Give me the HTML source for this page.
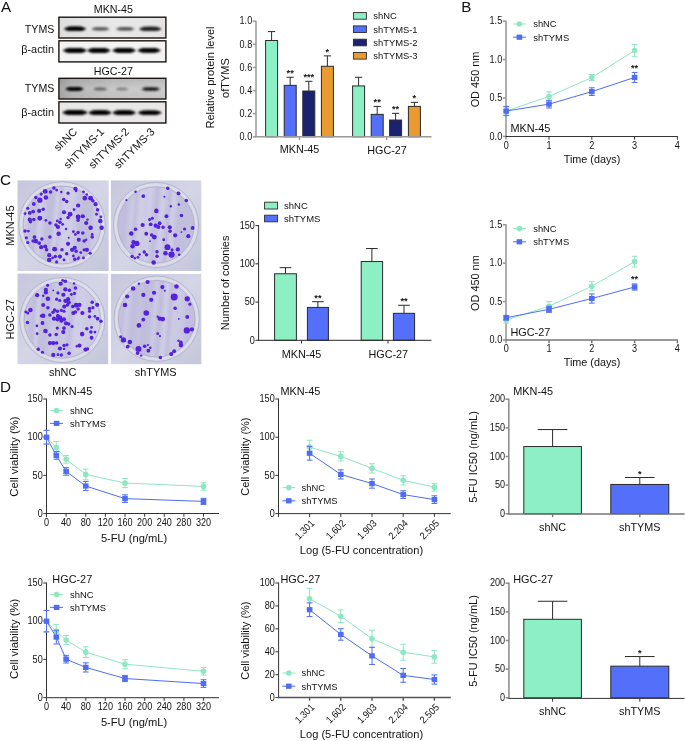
<!DOCTYPE html>
<html><head><meta charset="utf-8"><style>
html,body{margin:0;padding:0;background:#fff;}
svg{display:block;will-change:transform;}
text{font-family:"Liberation Sans", sans-serif;}
</style></head><body>
<svg width="685" height="741" viewBox="0 0 685 741">
<rect width="685" height="741" fill="#fff"/>
<text x="0.90" y="12.10" font-size="15.2" text-anchor="start" fill="#111">A</text>
<text x="461.20" y="12.20" font-size="15.2" text-anchor="start" fill="#111">B</text>
<text x="0.00" y="185.30" font-size="15.2" text-anchor="start" fill="#111">C</text>
<text x="0.00" y="392.40" font-size="15.2" text-anchor="start" fill="#111">D</text>
<defs><filter id="bl1" x="-20%" y="-80%" width="140%" height="260%"><feGaussianBlur stdDeviation="0.95"/></filter><filter id="bl2" x="-50%" y="-50%" width="200%" height="200%"><feGaussianBlur stdDeviation="0.45"/></filter><filter id="bl3" x="-10%" y="-10%" width="120%" height="120%"><feGaussianBlur stdDeviation="1.2"/></filter><linearGradient id="gA3" x1="0" y1="0" x2="1" y2="0"><stop offset="0" stop-color="#a6a6a6"/><stop offset="0.12" stop-color="#b8b8b8"/><stop offset="0.5" stop-color="#c8c8c8"/><stop offset="1" stop-color="#cdcdcd"/></linearGradient><linearGradient id="gA3v" x1="0" y1="0" x2="0" y2="1"><stop offset="0" stop-color="#000" stop-opacity="0.10"/><stop offset="0.5" stop-color="#000" stop-opacity="0"/><stop offset="1" stop-color="#000" stop-opacity="0.04"/></linearGradient><linearGradient id="gA1" x1="0" y1="0" x2="1" y2="0"><stop offset="0" stop-color="#dedede"/><stop offset="0.5" stop-color="#e8e8e8"/><stop offset="1" stop-color="#e4e4e4"/></linearGradient></defs>
<rect x="58.90" y="17.20" width="107.00" height="20.80" fill="url(#gA1)"/>
<g filter="url(#bl1)" fill="#050505" fill-opacity="1.0"><ellipse cx="75.00" cy="28.80" rx="11.00" ry="2.30"/><rect x="66.64" y="26.50" width="16.72" height="4.60" rx="2.30"/></g>
<g filter="url(#bl1)" fill="#555" fill-opacity="0.85"><ellipse cx="100.50" cy="28.90" rx="9.00" ry="1.70"/><rect x="93.66" y="27.20" width="13.68" height="3.40" rx="1.70"/></g>
<g filter="url(#bl1)" fill="#4a4a4a" fill-opacity="0.85"><ellipse cx="125.25" cy="28.90" rx="9.25" ry="1.70"/><rect x="118.22" y="27.20" width="14.06" height="3.40" rx="1.70"/></g>
<g filter="url(#bl1)" fill="#1c1c1c" fill-opacity="0.95"><ellipse cx="150.25" cy="28.90" rx="11.25" ry="2.10"/><rect x="141.70" y="26.80" width="17.10" height="4.20" rx="2.10"/></g>
<rect x="58.90" y="17.20" width="107.00" height="20.80" fill="none" stroke="#1c1511" stroke-width="1.4"/>
<rect x="58.90" y="40.80" width="107.00" height="21.10" fill="#f3f3f3"/>
<g filter="url(#bl1)" fill="#000" fill-opacity="1.0"><ellipse cx="74.90" cy="50.40" rx="11.90" ry="2.50"/><rect x="65.86" y="47.90" width="18.09" height="5.00" rx="2.50"/></g>
<g filter="url(#bl1)" fill="#000" fill-opacity="1.0"><ellipse cx="98.80" cy="50.50" rx="11.60" ry="2.50"/><rect x="89.98" y="48.00" width="17.63" height="5.00" rx="2.50"/></g>
<g filter="url(#bl1)" fill="#000" fill-opacity="1.0"><ellipse cx="124.10" cy="50.50" rx="11.70" ry="2.40"/><rect x="115.21" y="48.10" width="17.78" height="4.80" rx="2.40"/></g>
<g filter="url(#bl1)" fill="#000" fill-opacity="1.0"><ellipse cx="149.10" cy="50.40" rx="11.50" ry="2.30"/><rect x="140.36" y="48.10" width="17.48" height="4.60" rx="2.30"/></g>
<rect x="58.90" y="40.80" width="107.00" height="21.10" fill="none" stroke="#1c1511" stroke-width="1.4"/>
<rect x="58.90" y="78.30" width="107.00" height="20.70" fill="url(#gA3)"/>
<rect x="58.90" y="78.30" width="107.00" height="20.70" fill="url(#gA3v)"/>
<g filter="url(#bl1)" fill="#000" fill-opacity="1.0"><ellipse cx="74.50" cy="88.90" rx="9.00" ry="1.90"/><rect x="67.66" y="87.00" width="13.68" height="3.80" rx="1.90"/></g>
<g filter="url(#bl1)" fill="#555" fill-opacity="0.6"><ellipse cx="100.25" cy="89.00" rx="7.25" ry="1.50"/><rect x="94.74" y="87.50" width="11.02" height="3.00" rx="1.50"/></g>
<g filter="url(#bl1)" fill="#5a5a5a" fill-opacity="0.45"><ellipse cx="122.00" cy="89.00" rx="6.50" ry="1.30"/><rect x="117.06" y="87.70" width="9.88" height="2.60" rx="1.30"/></g>
<g filter="url(#bl1)" fill="#1a1a1a" fill-opacity="0.85"><ellipse cx="150.75" cy="89.00" rx="9.25" ry="1.80"/><rect x="143.72" y="87.20" width="14.06" height="3.60" rx="1.80"/></g>
<rect x="58.90" y="78.30" width="107.00" height="20.70" fill="none" stroke="#1c1511" stroke-width="1.4"/>
<rect x="58.90" y="101.80" width="107.00" height="21.20" fill="#e8e8e8"/>
<g filter="url(#bl1)" fill="#000" fill-opacity="1.0"><ellipse cx="75.00" cy="112.60" rx="12.50" ry="2.50"/><rect x="65.50" y="110.10" width="19.00" height="5.00" rx="2.50"/></g>
<g filter="url(#bl1)" fill="#000" fill-opacity="1.0"><ellipse cx="100.00" cy="112.70" rx="11.50" ry="2.40"/><rect x="91.26" y="110.30" width="17.48" height="4.80" rx="2.40"/></g>
<g filter="url(#bl1)" fill="#000" fill-opacity="1.0"><ellipse cx="124.15" cy="112.70" rx="11.65" ry="2.40"/><rect x="115.30" y="110.30" width="17.71" height="4.80" rx="2.40"/></g>
<g filter="url(#bl1)" fill="#000" fill-opacity="1.0"><ellipse cx="149.75" cy="112.70" rx="11.75" ry="2.30"/><rect x="140.82" y="110.40" width="17.86" height="4.60" rx="2.30"/></g>
<rect x="58.90" y="101.80" width="107.00" height="21.20" fill="none" stroke="#1c1511" stroke-width="1.4"/>
<text x="113.40" y="13.10" font-size="10.7" text-anchor="middle" fill="#111">MKN-45</text>
<text x="113.40" y="74.60" font-size="10.7" text-anchor="middle" fill="#111">HGC-27</text>
<text x="54.30" y="32.80" font-size="10.6" text-anchor="end" fill="#111">TYMS</text>
<text x="54.10" y="53.00" font-size="10.9" text-anchor="end" fill="#111">β-actin</text>
<text x="54.30" y="92.30" font-size="10.6" text-anchor="end" fill="#111">TYMS</text>
<text x="54.10" y="115.60" font-size="10.9" text-anchor="end" fill="#111">β-actin</text>
<text x="77.80" y="132.40" font-size="11.0" text-anchor="end" fill="#111" transform="rotate(-45 77.80 132.40)">shNC</text>
<text x="104.80" y="132.40" font-size="11.0" text-anchor="end" fill="#111" transform="rotate(-45 104.80 132.40)">shTYMS-1</text>
<text x="129.80" y="132.40" font-size="11.0" text-anchor="end" fill="#111" transform="rotate(-45 129.80 132.40)">shTYMS-2</text>
<text x="155.30" y="132.40" font-size="11.0" text-anchor="end" fill="#111" transform="rotate(-45 155.30 132.40)">shTYMS-3</text>
<line x1="271.60" y1="40.51" x2="271.60" y2="31.60" stroke="#2a2a2a" stroke-width="1.0"/>
<line x1="268.00" y1="31.60" x2="275.20" y2="31.60" stroke="#2a2a2a" stroke-width="1.0"/>
<rect x="265.60" y="40.51" width="12.00" height="96.29" fill="#8cf0c4" stroke="#2a2a2a" stroke-width="1.0"/>
<line x1="290.20" y1="85.36" x2="290.20" y2="77.27" stroke="#2a2a2a" stroke-width="1.0"/>
<line x1="286.60" y1="77.27" x2="293.80" y2="77.27" stroke="#2a2a2a" stroke-width="1.0"/>
<rect x="284.20" y="85.36" width="12.00" height="51.44" fill="#5470fa" stroke="#2a2a2a" stroke-width="1.0"/>
<text x="290.20" y="76.07" font-size="9.2" text-anchor="middle" fill="#111" font-weight="bold">**</text>
<line x1="308.80" y1="91.02" x2="308.80" y2="81.31" stroke="#2a2a2a" stroke-width="1.0"/>
<line x1="305.20" y1="81.31" x2="312.40" y2="81.31" stroke="#2a2a2a" stroke-width="1.0"/>
<rect x="302.80" y="91.02" width="12.00" height="45.78" fill="#1b2270" stroke="#2a2a2a" stroke-width="1.0"/>
<text x="308.80" y="80.11" font-size="9.2" text-anchor="middle" fill="#111" font-weight="bold">***</text>
<line x1="327.40" y1="66.28" x2="327.40" y2="55.88" stroke="#2a2a2a" stroke-width="1.0"/>
<line x1="323.80" y1="55.88" x2="331.00" y2="55.88" stroke="#2a2a2a" stroke-width="1.0"/>
<rect x="321.40" y="66.28" width="12.00" height="70.52" fill="#e99b32" stroke="#2a2a2a" stroke-width="1.0"/>
<text x="327.40" y="54.68" font-size="9.2" text-anchor="middle" fill="#111" font-weight="bold">*</text>
<line x1="358.60" y1="85.94" x2="358.60" y2="77.27" stroke="#2a2a2a" stroke-width="1.0"/>
<line x1="355.00" y1="77.27" x2="362.20" y2="77.27" stroke="#2a2a2a" stroke-width="1.0"/>
<rect x="352.60" y="85.94" width="12.00" height="50.86" fill="#8cf0c4" stroke="#2a2a2a" stroke-width="1.0"/>
<line x1="377.20" y1="114.37" x2="377.20" y2="106.40" stroke="#2a2a2a" stroke-width="1.0"/>
<line x1="373.60" y1="106.40" x2="380.80" y2="106.40" stroke="#2a2a2a" stroke-width="1.0"/>
<rect x="371.20" y="114.37" width="12.00" height="22.43" fill="#5470fa" stroke="#2a2a2a" stroke-width="1.0"/>
<text x="377.20" y="105.20" font-size="9.2" text-anchor="middle" fill="#111" font-weight="bold">**</text>
<line x1="395.60" y1="120.04" x2="395.60" y2="113.33" stroke="#2a2a2a" stroke-width="1.0"/>
<line x1="392.00" y1="113.33" x2="399.20" y2="113.33" stroke="#2a2a2a" stroke-width="1.0"/>
<rect x="389.60" y="120.04" width="12.00" height="16.76" fill="#1b2270" stroke="#2a2a2a" stroke-width="1.0"/>
<text x="395.60" y="112.13" font-size="9.2" text-anchor="middle" fill="#111" font-weight="bold">**</text>
<line x1="414.40" y1="106.40" x2="414.40" y2="102.35" stroke="#2a2a2a" stroke-width="1.0"/>
<line x1="410.80" y1="102.35" x2="418.00" y2="102.35" stroke="#2a2a2a" stroke-width="1.0"/>
<rect x="408.40" y="106.40" width="12.00" height="30.40" fill="#e99b32" stroke="#2a2a2a" stroke-width="1.0"/>
<text x="414.40" y="101.15" font-size="9.2" text-anchor="middle" fill="#111" font-weight="bold">*</text>
<line x1="256.00" y1="20.70" x2="256.00" y2="137.30" stroke="#9a9a9a" stroke-width="1.5"/>
<line x1="252.80" y1="136.80" x2="256.00" y2="136.80" stroke="#9a9a9a" stroke-width="1.5"/>
<text transform="translate(252.20 140.00) scale(0.91 1)" font-size="10.0" text-anchor="end" fill="#111">0.0</text>
<line x1="252.80" y1="113.68" x2="256.00" y2="113.68" stroke="#9a9a9a" stroke-width="1.5"/>
<text transform="translate(252.20 116.88) scale(0.91 1)" font-size="10.0" text-anchor="end" fill="#111">0.2</text>
<line x1="252.80" y1="90.56" x2="256.00" y2="90.56" stroke="#9a9a9a" stroke-width="1.5"/>
<text transform="translate(252.20 93.76) scale(0.91 1)" font-size="10.0" text-anchor="end" fill="#111">0.4</text>
<line x1="252.80" y1="67.44" x2="256.00" y2="67.44" stroke="#9a9a9a" stroke-width="1.5"/>
<text transform="translate(252.20 70.64) scale(0.91 1)" font-size="10.0" text-anchor="end" fill="#111">0.6</text>
<line x1="252.80" y1="44.32" x2="256.00" y2="44.32" stroke="#9a9a9a" stroke-width="1.5"/>
<text transform="translate(252.20 47.52) scale(0.91 1)" font-size="10.0" text-anchor="end" fill="#111">0.8</text>
<line x1="252.80" y1="21.20" x2="256.00" y2="21.20" stroke="#9a9a9a" stroke-width="1.5"/>
<text transform="translate(252.20 24.40) scale(0.91 1)" font-size="10.0" text-anchor="end" fill="#111">1.0</text>
<line x1="255.50" y1="136.80" x2="431.50" y2="136.80" stroke="#9a9a9a" stroke-width="1.5"/>
<line x1="299.50" y1="136.80" x2="299.50" y2="140.00" stroke="#9a9a9a" stroke-width="1.5"/>
<line x1="386.60" y1="136.80" x2="386.60" y2="140.00" stroke="#9a9a9a" stroke-width="1.5"/>
<text x="299.50" y="153.30" font-size="10.8" text-anchor="middle" fill="#111">MKN-45</text>
<text x="387.00" y="153.60" font-size="10.8" text-anchor="middle" fill="#111">HGC-27</text>
<text x="214.00" y="77.50" font-size="11" text-anchor="middle" fill="#111" transform="rotate(-90 214.00 77.50)">Relative protein level</text>
<text x="229.00" y="78.00" font-size="11" text-anchor="middle" fill="#111" transform="rotate(-90 229.00 78.00)">ofTYMS</text>
<rect x="353.40" y="12.60" width="13.00" height="6.60" fill="#8cf0c4" stroke="#2a2a2a" stroke-width="0.9"/>
<text x="373.30" y="19.20" font-size="9.4" text-anchor="start" fill="#111">shNC</text>
<rect x="353.40" y="25.90" width="13.00" height="6.60" fill="#5470fa" stroke="#2a2a2a" stroke-width="0.9"/>
<text x="373.30" y="32.50" font-size="9.4" text-anchor="start" fill="#111">shTYMS-1</text>
<rect x="353.40" y="39.20" width="13.00" height="6.60" fill="#1b2270" stroke="#2a2a2a" stroke-width="0.9"/>
<text x="373.30" y="45.80" font-size="9.4" text-anchor="start" fill="#111">shTYMS-2</text>
<rect x="353.40" y="52.50" width="13.00" height="6.60" fill="#e99b32" stroke="#2a2a2a" stroke-width="0.9"/>
<text x="373.30" y="59.10" font-size="9.4" text-anchor="start" fill="#111">shTYMS-3</text>
<line x1="506.00" y1="20.70" x2="506.00" y2="139.60" stroke="#9a9a9a" stroke-width="1.6"/>
<line x1="502.80" y1="136.40" x2="506.00" y2="136.40" stroke="#9a9a9a" stroke-width="1.6"/>
<text transform="translate(502.20 139.60) scale(0.91 1)" font-size="10.0" text-anchor="end" fill="#111">0.0</text>
<line x1="502.80" y1="98.00" x2="506.00" y2="98.00" stroke="#9a9a9a" stroke-width="1.6"/>
<text transform="translate(502.20 101.20) scale(0.91 1)" font-size="10.0" text-anchor="end" fill="#111">0.5</text>
<line x1="502.80" y1="59.60" x2="506.00" y2="59.60" stroke="#9a9a9a" stroke-width="1.6"/>
<text transform="translate(502.20 62.80) scale(0.91 1)" font-size="10.0" text-anchor="end" fill="#111">1.0</text>
<line x1="502.80" y1="21.20" x2="506.00" y2="21.20" stroke="#9a9a9a" stroke-width="1.6"/>
<text transform="translate(502.20 24.40) scale(0.91 1)" font-size="10.0" text-anchor="end" fill="#111">1.5</text>
<line x1="505.50" y1="136.50" x2="677.80" y2="136.50" stroke="#2a2a2a" stroke-width="0.95"/>
<line x1="549.00" y1="136.50" x2="549.00" y2="139.70" stroke="#2a2a2a" stroke-width="0.95"/>
<line x1="591.80" y1="136.50" x2="591.80" y2="139.70" stroke="#2a2a2a" stroke-width="0.95"/>
<line x1="634.60" y1="136.50" x2="634.60" y2="139.70" stroke="#2a2a2a" stroke-width="0.95"/>
<line x1="677.40" y1="136.50" x2="677.40" y2="139.70" stroke="#2a2a2a" stroke-width="0.95"/>
<path d="M506.20,111.06 L549.00,96.46 L591.80,77.57 L634.60,50.61" fill="none" stroke="#8ee6c2" stroke-width="1.0"/>
<line x1="506.20" y1="107.22" x2="506.20" y2="114.90" stroke="#8ee6c2" stroke-width="1.0"/>
<line x1="503.30" y1="107.22" x2="509.10" y2="107.22" stroke="#8ee6c2" stroke-width="1.0"/>
<line x1="503.30" y1="114.90" x2="509.10" y2="114.90" stroke="#8ee6c2" stroke-width="1.0"/>
<line x1="549.00" y1="91.86" x2="549.00" y2="101.07" stroke="#8ee6c2" stroke-width="1.0"/>
<line x1="546.10" y1="91.86" x2="551.90" y2="91.86" stroke="#8ee6c2" stroke-width="1.0"/>
<line x1="546.10" y1="101.07" x2="551.90" y2="101.07" stroke="#8ee6c2" stroke-width="1.0"/>
<line x1="591.80" y1="74.50" x2="591.80" y2="80.64" stroke="#8ee6c2" stroke-width="1.0"/>
<line x1="588.90" y1="74.50" x2="594.70" y2="74.50" stroke="#8ee6c2" stroke-width="1.0"/>
<line x1="588.90" y1="80.64" x2="594.70" y2="80.64" stroke="#8ee6c2" stroke-width="1.0"/>
<line x1="634.60" y1="44.47" x2="634.60" y2="56.76" stroke="#8ee6c2" stroke-width="1.0"/>
<line x1="631.70" y1="44.47" x2="637.50" y2="44.47" stroke="#8ee6c2" stroke-width="1.0"/>
<line x1="631.70" y1="56.76" x2="637.50" y2="56.76" stroke="#8ee6c2" stroke-width="1.0"/>
<circle cx="506.20" cy="111.06" r="2.8" fill="#8ee6c2"/>
<circle cx="549.00" cy="96.46" r="2.8" fill="#8ee6c2"/>
<circle cx="591.80" cy="77.57" r="2.8" fill="#8ee6c2"/>
<circle cx="634.60" cy="50.61" r="2.8" fill="#8ee6c2"/>
<path d="M506.20,111.06 L549.00,104.14 L591.80,91.63 L634.60,77.42" fill="none" stroke="#4f6cf2" stroke-width="1.0"/>
<line x1="506.20" y1="106.45" x2="506.20" y2="115.66" stroke="#4f6cf2" stroke-width="1.0"/>
<line x1="503.30" y1="106.45" x2="509.10" y2="106.45" stroke="#4f6cf2" stroke-width="1.0"/>
<line x1="503.30" y1="115.66" x2="509.10" y2="115.66" stroke="#4f6cf2" stroke-width="1.0"/>
<line x1="549.00" y1="100.30" x2="549.00" y2="107.98" stroke="#4f6cf2" stroke-width="1.0"/>
<line x1="546.10" y1="100.30" x2="551.90" y2="100.30" stroke="#4f6cf2" stroke-width="1.0"/>
<line x1="546.10" y1="107.98" x2="551.90" y2="107.98" stroke="#4f6cf2" stroke-width="1.0"/>
<line x1="591.80" y1="87.79" x2="591.80" y2="95.47" stroke="#4f6cf2" stroke-width="1.0"/>
<line x1="588.90" y1="87.79" x2="594.70" y2="87.79" stroke="#4f6cf2" stroke-width="1.0"/>
<line x1="588.90" y1="95.47" x2="594.70" y2="95.47" stroke="#4f6cf2" stroke-width="1.0"/>
<line x1="634.60" y1="72.43" x2="634.60" y2="82.41" stroke="#4f6cf2" stroke-width="1.0"/>
<line x1="631.70" y1="72.43" x2="637.50" y2="72.43" stroke="#4f6cf2" stroke-width="1.0"/>
<line x1="631.70" y1="82.41" x2="637.50" y2="82.41" stroke="#4f6cf2" stroke-width="1.0"/>
<rect x="503.40" y="108.46" width="5.60" height="5.20" fill="#4f6cf2"/>
<rect x="546.20" y="101.54" width="5.60" height="5.20" fill="#4f6cf2"/>
<rect x="589.00" y="89.03" width="5.60" height="5.20" fill="#4f6cf2"/>
<rect x="631.80" y="74.82" width="5.60" height="5.20" fill="#4f6cf2"/>
<text transform="translate(506.20 148.80) scale(0.91 1)" font-size="10.0" text-anchor="middle" fill="#111">0</text>
<text transform="translate(549.00 148.80) scale(0.91 1)" font-size="10.0" text-anchor="middle" fill="#111">1</text>
<text transform="translate(591.80 148.80) scale(0.91 1)" font-size="10.0" text-anchor="middle" fill="#111">2</text>
<text transform="translate(634.60 148.80) scale(0.91 1)" font-size="10.0" text-anchor="middle" fill="#111">3</text>
<text transform="translate(677.40 148.80) scale(0.91 1)" font-size="10.0" text-anchor="middle" fill="#111">4</text>
<text x="592.00" y="162.70" font-size="10.8" text-anchor="middle" fill="#111">Time (days)</text>
<text x="478.60" y="79.50" font-size="10.9" text-anchor="middle" fill="#111" transform="rotate(-90 478.60 79.50)">OD 450 nm</text>
<text x="510.40" y="132.40" font-size="10.9" text-anchor="start" fill="#111">MKN-45</text>
<text x="634.60" y="70.83" font-size="9.2" text-anchor="middle" fill="#111" font-weight="bold">**</text>
<line x1="512.90" y1="24.00" x2="525.90" y2="24.00" stroke="#8ee6c2" stroke-width="1.0"/>
<circle cx="519.40" cy="24.00" r="2.8" fill="#8ee6c2"/>
<text x="533.20" y="27.40" font-size="9.4" text-anchor="start" fill="#111">shNC</text>
<line x1="512.90" y1="37.20" x2="525.90" y2="37.20" stroke="#4f6cf2" stroke-width="1.0"/>
<rect x="516.60" y="34.60" width="5.60" height="5.20" fill="#4f6cf2"/>
<text x="533.20" y="40.60" font-size="9.4" text-anchor="start" fill="#111">shTYMS</text>
<line x1="506.00" y1="224.30" x2="506.00" y2="343.20" stroke="#9a9a9a" stroke-width="1.6"/>
<line x1="502.80" y1="340.00" x2="506.00" y2="340.00" stroke="#9a9a9a" stroke-width="1.6"/>
<text transform="translate(502.20 343.20) scale(0.91 1)" font-size="10.0" text-anchor="end" fill="#111">0.0</text>
<line x1="502.80" y1="301.60" x2="506.00" y2="301.60" stroke="#9a9a9a" stroke-width="1.6"/>
<text transform="translate(502.20 304.80) scale(0.91 1)" font-size="10.0" text-anchor="end" fill="#111">0.5</text>
<line x1="502.80" y1="263.20" x2="506.00" y2="263.20" stroke="#9a9a9a" stroke-width="1.6"/>
<text transform="translate(502.20 266.40) scale(0.91 1)" font-size="10.0" text-anchor="end" fill="#111">1.0</text>
<line x1="502.80" y1="224.80" x2="506.00" y2="224.80" stroke="#9a9a9a" stroke-width="1.6"/>
<text transform="translate(502.20 228.00) scale(0.91 1)" font-size="10.0" text-anchor="end" fill="#111">1.5</text>
<line x1="505.50" y1="340.10" x2="677.80" y2="340.10" stroke="#777" stroke-width="1.5"/>
<line x1="549.00" y1="340.10" x2="549.00" y2="343.30" stroke="#777" stroke-width="1.5"/>
<line x1="591.80" y1="340.10" x2="591.80" y2="343.30" stroke="#777" stroke-width="1.5"/>
<line x1="634.60" y1="340.10" x2="634.60" y2="343.30" stroke="#777" stroke-width="1.5"/>
<line x1="677.40" y1="340.10" x2="677.40" y2="343.30" stroke="#777" stroke-width="1.5"/>
<path d="M506.20,320.03 L549.00,306.21 L591.80,286.24 L634.60,261.66" fill="none" stroke="#8ee6c2" stroke-width="1.0"/>
<line x1="506.20" y1="316.96" x2="506.20" y2="323.10" stroke="#8ee6c2" stroke-width="1.0"/>
<line x1="503.30" y1="316.96" x2="509.10" y2="316.96" stroke="#8ee6c2" stroke-width="1.0"/>
<line x1="503.30" y1="323.10" x2="509.10" y2="323.10" stroke="#8ee6c2" stroke-width="1.0"/>
<line x1="549.00" y1="301.60" x2="549.00" y2="310.82" stroke="#8ee6c2" stroke-width="1.0"/>
<line x1="546.10" y1="301.60" x2="551.90" y2="301.60" stroke="#8ee6c2" stroke-width="1.0"/>
<line x1="546.10" y1="310.82" x2="551.90" y2="310.82" stroke="#8ee6c2" stroke-width="1.0"/>
<line x1="591.80" y1="281.63" x2="591.80" y2="290.85" stroke="#8ee6c2" stroke-width="1.0"/>
<line x1="588.90" y1="281.63" x2="594.70" y2="281.63" stroke="#8ee6c2" stroke-width="1.0"/>
<line x1="588.90" y1="290.85" x2="594.70" y2="290.85" stroke="#8ee6c2" stroke-width="1.0"/>
<line x1="634.60" y1="256.29" x2="634.60" y2="267.04" stroke="#8ee6c2" stroke-width="1.0"/>
<line x1="631.70" y1="256.29" x2="637.50" y2="256.29" stroke="#8ee6c2" stroke-width="1.0"/>
<line x1="631.70" y1="267.04" x2="637.50" y2="267.04" stroke="#8ee6c2" stroke-width="1.0"/>
<circle cx="506.20" cy="320.03" r="2.8" fill="#8ee6c2"/>
<circle cx="549.00" cy="306.21" r="2.8" fill="#8ee6c2"/>
<circle cx="591.80" cy="286.24" r="2.8" fill="#8ee6c2"/>
<circle cx="634.60" cy="261.66" r="2.8" fill="#8ee6c2"/>
<path d="M506.20,317.73 L549.00,309.28 L591.80,298.53 L634.60,287.01" fill="none" stroke="#4f6cf2" stroke-width="1.0"/>
<line x1="506.20" y1="315.42" x2="506.20" y2="320.03" stroke="#4f6cf2" stroke-width="1.0"/>
<line x1="503.30" y1="315.42" x2="509.10" y2="315.42" stroke="#4f6cf2" stroke-width="1.0"/>
<line x1="503.30" y1="320.03" x2="509.10" y2="320.03" stroke="#4f6cf2" stroke-width="1.0"/>
<line x1="549.00" y1="306.21" x2="549.00" y2="312.35" stroke="#4f6cf2" stroke-width="1.0"/>
<line x1="546.10" y1="306.21" x2="551.90" y2="306.21" stroke="#4f6cf2" stroke-width="1.0"/>
<line x1="546.10" y1="312.35" x2="551.90" y2="312.35" stroke="#4f6cf2" stroke-width="1.0"/>
<line x1="591.80" y1="293.92" x2="591.80" y2="303.14" stroke="#4f6cf2" stroke-width="1.0"/>
<line x1="588.90" y1="293.92" x2="594.70" y2="293.92" stroke="#4f6cf2" stroke-width="1.0"/>
<line x1="588.90" y1="303.14" x2="594.70" y2="303.14" stroke="#4f6cf2" stroke-width="1.0"/>
<line x1="634.60" y1="283.94" x2="634.60" y2="290.08" stroke="#4f6cf2" stroke-width="1.0"/>
<line x1="631.70" y1="283.94" x2="637.50" y2="283.94" stroke="#4f6cf2" stroke-width="1.0"/>
<line x1="631.70" y1="290.08" x2="637.50" y2="290.08" stroke="#4f6cf2" stroke-width="1.0"/>
<rect x="503.40" y="315.13" width="5.60" height="5.20" fill="#4f6cf2"/>
<rect x="546.20" y="306.68" width="5.60" height="5.20" fill="#4f6cf2"/>
<rect x="589.00" y="295.93" width="5.60" height="5.20" fill="#4f6cf2"/>
<rect x="631.80" y="284.41" width="5.60" height="5.20" fill="#4f6cf2"/>
<text transform="translate(506.20 352.40) scale(0.91 1)" font-size="10.0" text-anchor="middle" fill="#111">0</text>
<text transform="translate(549.00 352.40) scale(0.91 1)" font-size="10.0" text-anchor="middle" fill="#111">1</text>
<text transform="translate(591.80 352.40) scale(0.91 1)" font-size="10.0" text-anchor="middle" fill="#111">2</text>
<text transform="translate(634.60 352.40) scale(0.91 1)" font-size="10.0" text-anchor="middle" fill="#111">3</text>
<text transform="translate(677.40 352.40) scale(0.91 1)" font-size="10.0" text-anchor="middle" fill="#111">4</text>
<text x="592.00" y="366.30" font-size="10.8" text-anchor="middle" fill="#111">Time (days)</text>
<text x="478.60" y="283.10" font-size="10.9" text-anchor="middle" fill="#111" transform="rotate(-90 478.60 283.10)">OD 450 nm</text>
<text x="510.40" y="336.20" font-size="10.9" text-anchor="start" fill="#111">HGC-27</text>
<text x="634.60" y="282.34" font-size="9.2" text-anchor="middle" fill="#111" font-weight="bold">**</text>
<line x1="512.90" y1="228.60" x2="525.90" y2="228.60" stroke="#8ee6c2" stroke-width="1.0"/>
<circle cx="519.40" cy="228.60" r="2.8" fill="#8ee6c2"/>
<text x="533.20" y="232.00" font-size="9.4" text-anchor="start" fill="#111">shNC</text>
<line x1="512.90" y1="241.80" x2="525.90" y2="241.80" stroke="#4f6cf2" stroke-width="1.0"/>
<rect x="516.60" y="239.20" width="5.60" height="5.20" fill="#4f6cf2"/>
<text x="533.20" y="245.20" font-size="9.4" text-anchor="start" fill="#111">shTYMS</text>
<line x1="285.50" y1="273.77" x2="285.50" y2="267.66" stroke="#2a2a2a" stroke-width="1.0"/>
<line x1="279.70" y1="267.66" x2="291.30" y2="267.66" stroke="#2a2a2a" stroke-width="1.0"/>
<rect x="274.60" y="273.77" width="21.80" height="66.53" fill="#8cf0c4" stroke="#2a2a2a" stroke-width="1.0"/>
<line x1="317.90" y1="307.42" x2="317.90" y2="301.68" stroke="#2a2a2a" stroke-width="1.0"/>
<line x1="312.10" y1="301.68" x2="323.70" y2="301.68" stroke="#2a2a2a" stroke-width="1.0"/>
<rect x="307.40" y="307.42" width="21.00" height="32.88" fill="#5470fa" stroke="#2a2a2a" stroke-width="1.0"/>
<text x="317.90" y="300.68" font-size="9.2" text-anchor="middle" fill="#111" font-weight="bold">**</text>
<line x1="371.90" y1="261.54" x2="371.90" y2="248.54" stroke="#2a2a2a" stroke-width="1.0"/>
<line x1="366.10" y1="248.54" x2="377.70" y2="248.54" stroke="#2a2a2a" stroke-width="1.0"/>
<rect x="361.20" y="261.54" width="21.40" height="78.76" fill="#8cf0c4" stroke="#2a2a2a" stroke-width="1.0"/>
<line x1="404.00" y1="313.31" x2="404.00" y2="305.28" stroke="#2a2a2a" stroke-width="1.0"/>
<line x1="398.20" y1="305.28" x2="409.80" y2="305.28" stroke="#2a2a2a" stroke-width="1.0"/>
<rect x="393.40" y="313.31" width="21.20" height="26.99" fill="#5470fa" stroke="#2a2a2a" stroke-width="1.0"/>
<text x="404.00" y="304.28" font-size="9.2" text-anchor="middle" fill="#111" font-weight="bold">**</text>
<line x1="258.60" y1="225.10" x2="258.60" y2="340.80" stroke="#2a2a2a" stroke-width="1.0"/>
<line x1="255.40" y1="340.30" x2="258.60" y2="340.30" stroke="#2a2a2a" stroke-width="1.0"/>
<text transform="translate(254.80 343.50) scale(0.91 1)" font-size="10.0" text-anchor="end" fill="#111">0</text>
<line x1="255.40" y1="302.07" x2="258.60" y2="302.07" stroke="#2a2a2a" stroke-width="1.0"/>
<text transform="translate(254.80 305.27) scale(0.91 1)" font-size="10.0" text-anchor="end" fill="#111">50</text>
<line x1="255.40" y1="263.83" x2="258.60" y2="263.83" stroke="#2a2a2a" stroke-width="1.0"/>
<text transform="translate(254.80 267.03) scale(0.91 1)" font-size="10.0" text-anchor="end" fill="#111">100</text>
<line x1="255.40" y1="225.60" x2="258.60" y2="225.60" stroke="#2a2a2a" stroke-width="1.0"/>
<text transform="translate(254.80 228.80) scale(0.91 1)" font-size="10.0" text-anchor="end" fill="#111">150</text>
<line x1="258.10" y1="340.30" x2="431.50" y2="340.30" stroke="#2a2a2a" stroke-width="1.0"/>
<line x1="301.60" y1="340.30" x2="301.60" y2="343.50" stroke="#2a2a2a" stroke-width="1.0"/>
<line x1="388.00" y1="340.30" x2="388.00" y2="343.50" stroke="#2a2a2a" stroke-width="1.0"/>
<text x="301.60" y="358.20" font-size="10.8" text-anchor="middle" fill="#111">MKN-45</text>
<text x="388.30" y="358.20" font-size="10.8" text-anchor="middle" fill="#111">HGC-27</text>
<text x="228.90" y="282.90" font-size="11" text-anchor="middle" fill="#111" transform="rotate(-90 228.90 282.90)">Number of colonies</text>
<rect x="264.60" y="202.20" width="13.00" height="6.80" fill="#8cf0c4" stroke="#2a2a2a" stroke-width="0.9"/>
<rect x="264.60" y="215.20" width="13.00" height="6.60" fill="#5470fa" stroke="#2a2a2a" stroke-width="0.9"/>
<text x="284.00" y="209.20" font-size="9.5" text-anchor="start" fill="#111">shNC</text>
<text x="284.00" y="222.00" font-size="9.5" text-anchor="start" fill="#111">shTYMS</text>
<linearGradient id="pg17180" x1="0" y1="0" x2="1" y2="1"><stop offset="0" stop-color="#c6c7dc"/><stop offset="0.5" stop-color="#d4d5e6"/><stop offset="1" stop-color="#c4c6db"/></linearGradient>
<rect x="17.50" y="180.40" width="91.10" height="90.60" fill="url(#pg17180)"/>
<circle cx="62.00" cy="225.00" r="43.30" fill="#d6d7e6" stroke="#aeb0c8" stroke-width="0.8"/>
<circle cx="62.00" cy="225.00" r="41.10" fill="none" stroke="#dedfea" stroke-width="1.5"/>
<linearGradient id="st17180" x1="0" y1="0" x2="1" y2="0.08"><stop offset="0.000" stop-color="#d0cee7"/><stop offset="0.062" stop-color="#d0cee7"/><stop offset="0.117" stop-color="#c5c2df"/><stop offset="0.196" stop-color="#c2bfdd"/><stop offset="0.249" stop-color="#d0cee7"/><stop offset="0.339" stop-color="#c2bfdd"/><stop offset="0.389" stop-color="#bfbddb"/><stop offset="0.459" stop-color="#d0cee7"/><stop offset="0.490" stop-color="#c5c2df"/><stop offset="0.555" stop-color="#d0cee7"/><stop offset="0.644" stop-color="#d0cee7"/><stop offset="0.679" stop-color="#cbc9e3"/><stop offset="0.766" stop-color="#c2bfdd"/><stop offset="0.847" stop-color="#c2bfdd"/><stop offset="0.894" stop-color="#c2bfdd"/><stop offset="0.947" stop-color="#cbc9e3"/></linearGradient>
<circle cx="62.00" cy="225.00" r="38.90" fill="url(#st17180)" stroke="#b0aeca" stroke-width="0.9"/>
<g fill="#5220dc" filter="url(#bl2)">
<circle cx="45.20" cy="191.42" r="2.44"/>
<circle cx="50.58" cy="192.09" r="1.75"/>
<circle cx="53.93" cy="188.06" r="1.75"/>
<circle cx="56.62" cy="190.07" r="1.40"/>
<circle cx="61.32" cy="192.09" r="1.22"/>
<circle cx="68.04" cy="193.16" r="1.57"/>
<circle cx="75.42" cy="188.73" r="2.10"/>
<circle cx="76.09" cy="190.74" r="1.40"/>
<circle cx="83.48" cy="191.82" r="1.40"/>
<circle cx="86.84" cy="194.51" r="1.22"/>
<circle cx="84.82" cy="198.13" r="2.27"/>
<circle cx="90.60" cy="198.13" r="2.44"/>
<circle cx="92.88" cy="200.82" r="1.75"/>
<circle cx="95.57" cy="204.18" r="2.10"/>
<circle cx="97.58" cy="209.82" r="1.75"/>
<circle cx="96.51" cy="214.25" r="1.40"/>
<circle cx="100.94" cy="216.93" r="1.40"/>
<circle cx="100.27" cy="220.96" r="2.27"/>
<circle cx="101.61" cy="227.68" r="2.27"/>
<circle cx="90.60" cy="227.68" r="2.27"/>
<circle cx="92.21" cy="234.39" r="1.40"/>
<circle cx="92.21" cy="237.08" r="1.75"/>
<circle cx="41.18" cy="194.10" r="1.57"/>
<circle cx="45.88" cy="197.46" r="2.27"/>
<circle cx="35.80" cy="197.46" r="1.75"/>
<circle cx="39.83" cy="200.15" r="2.62"/>
<circle cx="33.79" cy="203.91" r="1.92"/>
<circle cx="27.74" cy="208.20" r="1.57"/>
<circle cx="33.12" cy="211.56" r="1.92"/>
<circle cx="29.76" cy="212.91" r="1.92"/>
<circle cx="25.06" cy="213.58" r="1.40"/>
<circle cx="39.16" cy="210.89" r="2.10"/>
<circle cx="43.19" cy="209.28" r="1.75"/>
<circle cx="63.74" cy="199.47" r="1.75"/>
<circle cx="66.69" cy="201.49" r="1.75"/>
<circle cx="78.11" cy="205.52" r="2.10"/>
<circle cx="74.08" cy="209.55" r="1.40"/>
<circle cx="64.01" cy="212.23" r="2.10"/>
<circle cx="70.05" cy="214.25" r="2.44"/>
<circle cx="68.04" cy="217.61" r="1.75"/>
<circle cx="78.11" cy="216.93" r="2.44"/>
<circle cx="82.81" cy="216.26" r="2.10"/>
<circle cx="78.11" cy="220.29" r="1.75"/>
<circle cx="87.51" cy="219.62" r="1.22"/>
<circle cx="86.17" cy="222.98" r="2.10"/>
<circle cx="39.83" cy="218.28" r="2.44"/>
<circle cx="45.88" cy="220.29" r="1.40"/>
<circle cx="49.91" cy="222.98" r="1.75"/>
<circle cx="57.29" cy="220.96" r="1.40"/>
<circle cx="60.65" cy="218.95" r="1.22"/>
<circle cx="59.98" cy="222.31" r="1.75"/>
<circle cx="55.95" cy="224.99" r="1.75"/>
<circle cx="57.96" cy="227.01" r="2.10"/>
<circle cx="62.66" cy="224.32" r="1.40"/>
<circle cx="66.02" cy="229.02" r="1.22"/>
<circle cx="58.64" cy="233.72" r="2.27"/>
<circle cx="49.91" cy="237.08" r="1.75"/>
<circle cx="73.41" cy="231.71" r="1.40"/>
<circle cx="75.42" cy="234.39" r="1.40"/>
<circle cx="78.11" cy="232.38" r="1.75"/>
<circle cx="82.81" cy="233.05" r="1.75"/>
<circle cx="78.78" cy="239.77" r="2.10"/>
<circle cx="84.15" cy="241.11" r="1.75"/>
<circle cx="86.17" cy="239.77" r="1.22"/>
<circle cx="29.76" cy="219.62" r="2.10"/>
<circle cx="33.79" cy="219.62" r="1.75"/>
<circle cx="30.43" cy="221.64" r="1.75"/>
<circle cx="25.06" cy="231.04" r="1.75"/>
<circle cx="28.42" cy="231.04" r="1.40"/>
<circle cx="26.40" cy="237.75" r="1.57"/>
<circle cx="34.46" cy="237.08" r="1.92"/>
<circle cx="35.80" cy="241.11" r="2.27"/>
<circle cx="33.12" cy="241.11" r="1.75"/>
<circle cx="39.16" cy="243.12" r="1.92"/>
<circle cx="41.85" cy="239.09" r="1.75"/>
<circle cx="27.74" cy="242.45" r="1.57"/>
<circle cx="41.18" cy="247.15" r="2.10"/>
<circle cx="45.20" cy="246.48" r="2.10"/>
<circle cx="46.55" cy="249.84" r="1.75"/>
<circle cx="49.23" cy="255.21" r="2.10"/>
<circle cx="49.23" cy="259.91" r="2.27"/>
<circle cx="52.59" cy="257.90" r="1.40"/>
<circle cx="54.61" cy="249.17" r="2.44"/>
<circle cx="55.28" cy="256.55" r="1.75"/>
<circle cx="56.62" cy="261.93" r="1.57"/>
<circle cx="59.98" cy="256.55" r="2.10"/>
<circle cx="61.99" cy="249.84" r="1.75"/>
<circle cx="66.69" cy="253.87" r="1.75"/>
<circle cx="68.04" cy="243.80" r="2.10"/>
<circle cx="72.07" cy="249.84" r="2.10"/>
<circle cx="74.75" cy="247.82" r="2.10"/>
<circle cx="76.09" cy="251.18" r="1.75"/>
<circle cx="73.41" cy="255.88" r="1.40"/>
<circle cx="74.75" cy="259.24" r="1.75"/>
<circle cx="78.11" cy="258.57" r="1.40"/>
<circle cx="80.80" cy="252.53" r="1.40"/>
<circle cx="84.15" cy="249.84" r="1.57"/>
<circle cx="86.84" cy="249.84" r="2.10"/>
<circle cx="83.48" cy="257.90" r="1.40"/>
<circle cx="90.20" cy="253.20" r="1.57"/>
<circle cx="68.71" cy="237.75" r="1.05"/>
<circle cx="78.78" cy="257.23" r="1.05"/>
<circle cx="64.01" cy="259.91" r="1.40"/>
</g>
<linearGradient id="pg110180" x1="0" y1="0" x2="1" y2="1"><stop offset="0" stop-color="#c6c7dc"/><stop offset="0.5" stop-color="#d4d5e6"/><stop offset="1" stop-color="#c4c6db"/></linearGradient>
<rect x="110.90" y="180.40" width="90.40" height="90.60" fill="url(#pg110180)"/>
<circle cx="156.00" cy="225.00" r="42.60" fill="#d6d7e6" stroke="#aeb0c8" stroke-width="0.8"/>
<circle cx="156.00" cy="225.00" r="40.40" fill="none" stroke="#dedfea" stroke-width="1.5"/>
<linearGradient id="st110180" x1="0" y1="0" x2="1" y2="0.08"><stop offset="0.000" stop-color="#c2bfdd"/><stop offset="0.039" stop-color="#c2bfdd"/><stop offset="0.122" stop-color="#bfbddb"/><stop offset="0.210" stop-color="#cbc9e3"/><stop offset="0.256" stop-color="#c2bfdd"/><stop offset="0.322" stop-color="#d0cee7"/><stop offset="0.394" stop-color="#cbc9e3"/><stop offset="0.431" stop-color="#d0cee7"/><stop offset="0.520" stop-color="#bfbddb"/><stop offset="0.602" stop-color="#d0cee7"/><stop offset="0.687" stop-color="#bfbddb"/><stop offset="0.734" stop-color="#d0cee7"/><stop offset="0.769" stop-color="#cbc9e3"/><stop offset="0.804" stop-color="#c2bfdd"/><stop offset="0.878" stop-color="#c2bfdd"/><stop offset="0.960" stop-color="#c2bfdd"/></linearGradient>
<circle cx="156.00" cy="225.00" r="38.20" fill="url(#st110180)" stroke="#b0aeca" stroke-width="0.9"/>
<g fill="#5220dc" filter="url(#bl2)">
<circle cx="167.75" cy="188.33" r="1.75"/>
<circle cx="178.50" cy="193.43" r="1.92"/>
<circle cx="186.29" cy="200.41" r="1.75"/>
<circle cx="135.52" cy="191.82" r="1.22"/>
<circle cx="143.31" cy="196.12" r="1.92"/>
<circle cx="164.39" cy="196.79" r="1.05"/>
<circle cx="126.39" cy="200.15" r="1.05"/>
<circle cx="178.90" cy="204.44" r="1.22"/>
<circle cx="170.84" cy="206.19" r="1.22"/>
<circle cx="156.34" cy="210.89" r="2.27"/>
<circle cx="166.41" cy="216.26" r="1.92"/>
<circle cx="181.45" cy="215.59" r="1.75"/>
<circle cx="149.62" cy="219.62" r="1.57"/>
<circle cx="152.31" cy="218.28" r="1.57"/>
<circle cx="142.64" cy="224.99" r="2.10"/>
<circle cx="150.69" cy="224.32" r="1.92"/>
<circle cx="155.66" cy="225.66" r="2.10"/>
<circle cx="159.69" cy="223.25" r="1.92"/>
<circle cx="158.35" cy="227.01" r="2.10"/>
<circle cx="163.05" cy="227.28" r="1.75"/>
<circle cx="169.77" cy="227.28" r="2.10"/>
<circle cx="170.04" cy="231.31" r="1.75"/>
<circle cx="135.52" cy="229.16" r="1.75"/>
<circle cx="184.54" cy="229.02" r="1.57"/>
<circle cx="192.60" cy="227.95" r="1.92"/>
<circle cx="181.45" cy="232.11" r="0.87"/>
<circle cx="131.22" cy="233.45" r="2.27"/>
<circle cx="146.26" cy="233.72" r="1.92"/>
<circle cx="151.64" cy="235.07" r="1.75"/>
<circle cx="154.32" cy="237.08" r="2.44"/>
<circle cx="175.14" cy="235.33" r="2.10"/>
<circle cx="188.30" cy="236.14" r="2.10"/>
<circle cx="163.72" cy="239.77" r="1.40"/>
<circle cx="150.02" cy="241.24" r="0.87"/>
<circle cx="133.50" cy="242.18" r="2.10"/>
<circle cx="136.86" cy="243.39" r="2.62"/>
<circle cx="132.56" cy="246.21" r="2.27"/>
<circle cx="167.48" cy="247.15" r="2.97"/>
<circle cx="172.05" cy="249.84" r="1.57"/>
<circle cx="177.82" cy="249.44" r="2.10"/>
<circle cx="165.47" cy="253.20" r="2.27"/>
<circle cx="171.51" cy="254.54" r="3.14"/>
<circle cx="157.01" cy="251.85" r="1.75"/>
<circle cx="144.25" cy="252.12" r="1.75"/>
<circle cx="146.53" cy="254.67" r="1.75"/>
<circle cx="179.17" cy="254.67" r="1.22"/>
<circle cx="139.55" cy="254.54" r="1.22"/>
<circle cx="132.16" cy="256.55" r="1.75"/>
<circle cx="134.85" cy="258.17" r="1.22"/>
<circle cx="137.94" cy="257.36" r="1.40"/>
<circle cx="157.01" cy="256.15" r="1.75"/>
<circle cx="153.65" cy="262.60" r="2.27"/>
</g>
<linearGradient id="pg17273" x1="0" y1="0" x2="1" y2="1"><stop offset="0" stop-color="#c6c7dc"/><stop offset="0.5" stop-color="#d4d5e6"/><stop offset="1" stop-color="#c4c6db"/></linearGradient>
<rect x="17.50" y="273.60" width="90.70" height="90.60" fill="url(#pg17273)"/>
<circle cx="62.30" cy="320.00" r="42.60" fill="#d6d7e6" stroke="#aeb0c8" stroke-width="0.8"/>
<circle cx="62.30" cy="320.00" r="40.40" fill="none" stroke="#dedfea" stroke-width="1.5"/>
<linearGradient id="st17273" x1="0" y1="0" x2="1" y2="0.08"><stop offset="0.000" stop-color="#bfbddb"/><stop offset="0.047" stop-color="#cbc9e3"/><stop offset="0.110" stop-color="#c5c2df"/><stop offset="0.161" stop-color="#bfbddb"/><stop offset="0.213" stop-color="#d0cee7"/><stop offset="0.260" stop-color="#c2bfdd"/><stop offset="0.345" stop-color="#c2bfdd"/><stop offset="0.424" stop-color="#cbc9e3"/><stop offset="0.506" stop-color="#c5c2df"/><stop offset="0.566" stop-color="#cbc9e3"/><stop offset="0.646" stop-color="#bfbddb"/><stop offset="0.712" stop-color="#d0cee7"/><stop offset="0.786" stop-color="#d0cee7"/><stop offset="0.861" stop-color="#cbc9e3"/><stop offset="0.899" stop-color="#cbc9e3"/><stop offset="0.980" stop-color="#d0cee7"/></linearGradient>
<circle cx="62.30" cy="320.00" r="38.20" fill="url(#st17273)" stroke="#b0aeca" stroke-width="0.9"/>
<g fill="#5220dc" filter="url(#bl2)">
<circle cx="60.65" cy="283.74" r="2.10"/>
<circle cx="65.35" cy="281.33" r="1.75"/>
<circle cx="62.66" cy="280.39" r="1.40"/>
<circle cx="47.62" cy="285.36" r="1.57"/>
<circle cx="74.08" cy="283.48" r="1.22"/>
<circle cx="45.88" cy="289.79" r="2.10"/>
<circle cx="45.88" cy="292.47" r="2.10"/>
<circle cx="53.26" cy="290.46" r="0.87"/>
<circle cx="65.35" cy="289.39" r="2.10"/>
<circle cx="69.38" cy="290.19" r="1.75"/>
<circle cx="75.42" cy="288.04" r="1.75"/>
<circle cx="57.96" cy="292.88" r="1.57"/>
<circle cx="63.34" cy="294.76" r="2.10"/>
<circle cx="71.39" cy="294.49" r="1.40"/>
<circle cx="74.48" cy="293.41" r="1.57"/>
<circle cx="37.15" cy="295.16" r="2.10"/>
<circle cx="43.19" cy="295.83" r="1.22"/>
<circle cx="47.89" cy="298.79" r="2.27"/>
<circle cx="56.62" cy="299.19" r="1.57"/>
<circle cx="59.71" cy="300.53" r="1.57"/>
<circle cx="65.35" cy="300.94" r="2.10"/>
<circle cx="68.04" cy="299.19" r="2.10"/>
<circle cx="68.71" cy="302.55" r="2.10"/>
<circle cx="67.36" cy="304.96" r="1.75"/>
<circle cx="64.28" cy="306.58" r="2.10"/>
<circle cx="43.19" cy="304.96" r="1.92"/>
<circle cx="47.89" cy="307.65" r="1.75"/>
<circle cx="72.74" cy="306.58" r="1.75"/>
<circle cx="76.09" cy="305.23" r="2.44"/>
<circle cx="79.45" cy="304.96" r="2.10"/>
<circle cx="78.11" cy="308.99" r="1.75"/>
<circle cx="92.21" cy="302.28" r="1.75"/>
<circle cx="97.18" cy="304.83" r="2.10"/>
<circle cx="92.88" cy="307.65" r="1.57"/>
<circle cx="89.53" cy="308.59" r="1.75"/>
<circle cx="89.53" cy="311.28" r="1.57"/>
<circle cx="30.43" cy="309.93" r="2.27"/>
<circle cx="25.73" cy="311.95" r="1.40"/>
<circle cx="27.74" cy="313.02" r="1.57"/>
<circle cx="54.61" cy="309.93" r="1.75"/>
<circle cx="52.99" cy="312.22" r="1.75"/>
<circle cx="57.29" cy="311.28" r="1.75"/>
<circle cx="61.32" cy="310.34" r="1.57"/>
<circle cx="64.01" cy="311.28" r="1.57"/>
<circle cx="73.41" cy="313.02" r="2.10"/>
<circle cx="75.42" cy="311.95" r="1.75"/>
<circle cx="82.41" cy="313.02" r="2.10"/>
<circle cx="43.19" cy="315.71" r="2.27"/>
<circle cx="41.18" cy="315.98" r="1.40"/>
<circle cx="49.91" cy="314.90" r="1.75"/>
<circle cx="53.93" cy="318.66" r="2.10"/>
<circle cx="57.96" cy="315.98" r="2.10"/>
<circle cx="59.98" cy="317.99" r="2.44"/>
<circle cx="57.29" cy="319.34" r="2.10"/>
<circle cx="61.32" cy="320.68" r="2.10"/>
<circle cx="64.01" cy="319.34" r="2.10"/>
<circle cx="66.02" cy="323.36" r="2.10"/>
<circle cx="68.71" cy="324.04" r="1.75"/>
<circle cx="72.07" cy="326.45" r="1.57"/>
<circle cx="64.01" cy="328.07" r="1.92"/>
<circle cx="63.34" cy="332.09" r="2.10"/>
<circle cx="57.29" cy="328.07" r="1.57"/>
<circle cx="94.90" cy="316.38" r="1.40"/>
<circle cx="89.53" cy="316.65" r="1.75"/>
<circle cx="97.58" cy="318.66" r="1.92"/>
<circle cx="100.94" cy="321.35" r="1.75"/>
<circle cx="27.48" cy="322.42" r="1.75"/>
<circle cx="42.52" cy="322.96" r="1.92"/>
<circle cx="36.88" cy="325.78" r="1.40"/>
<circle cx="45.47" cy="331.02" r="2.27"/>
<circle cx="49.91" cy="335.05" r="1.75"/>
<circle cx="56.22" cy="334.51" r="1.75"/>
<circle cx="37.15" cy="333.71" r="1.40"/>
<circle cx="86.84" cy="328.74" r="1.75"/>
<circle cx="91.54" cy="327.39" r="1.40"/>
<circle cx="90.87" cy="332.09" r="1.75"/>
<circle cx="94.90" cy="332.09" r="1.40"/>
<circle cx="82.14" cy="334.11" r="2.27"/>
<circle cx="91.54" cy="337.74" r="1.92"/>
<circle cx="49.91" cy="343.11" r="2.10"/>
<circle cx="53.26" cy="343.11" r="2.10"/>
<circle cx="56.62" cy="343.11" r="1.75"/>
<circle cx="64.01" cy="345.53" r="1.75"/>
<circle cx="66.96" cy="344.85" r="1.57"/>
<circle cx="59.98" cy="348.48" r="2.10"/>
<circle cx="64.01" cy="348.88" r="1.22"/>
<circle cx="79.45" cy="345.53" r="2.10"/>
<circle cx="76.77" cy="346.20" r="1.22"/>
<circle cx="85.50" cy="349.55" r="2.10"/>
<circle cx="87.51" cy="348.88" r="1.75"/>
<circle cx="38.22" cy="349.15" r="1.75"/>
<circle cx="42.52" cy="352.24" r="1.57"/>
<circle cx="53.26" cy="354.93" r="2.10"/>
<circle cx="57.96" cy="354.66" r="1.40"/>
<circle cx="61.32" cy="354.93" r="1.75"/>
<circle cx="69.11" cy="353.18" r="1.75"/>
</g>
<linearGradient id="pg110274" x1="0" y1="0" x2="1" y2="1"><stop offset="0" stop-color="#c6c7dc"/><stop offset="0.5" stop-color="#d4d5e6"/><stop offset="1" stop-color="#c4c6db"/></linearGradient>
<rect x="110.90" y="274.00" width="90.40" height="90.20" fill="url(#pg110274)"/>
<circle cx="156.70" cy="318.70" r="42.70" fill="#d6d7e6" stroke="#aeb0c8" stroke-width="0.8"/>
<circle cx="156.70" cy="318.70" r="40.50" fill="none" stroke="#dedfea" stroke-width="1.5"/>
<linearGradient id="st110274" x1="0" y1="0" x2="1" y2="0.08"><stop offset="0.000" stop-color="#cbc9e3"/><stop offset="0.083" stop-color="#c2bfdd"/><stop offset="0.140" stop-color="#cbc9e3"/><stop offset="0.229" stop-color="#bfbddb"/><stop offset="0.311" stop-color="#c5c2df"/><stop offset="0.366" stop-color="#bfbddb"/><stop offset="0.446" stop-color="#c2bfdd"/><stop offset="0.508" stop-color="#cbc9e3"/><stop offset="0.574" stop-color="#bfbddb"/><stop offset="0.643" stop-color="#d0cee7"/><stop offset="0.701" stop-color="#c2bfdd"/><stop offset="0.756" stop-color="#cbc9e3"/><stop offset="0.835" stop-color="#cbc9e3"/><stop offset="0.924" stop-color="#c5c2df"/><stop offset="0.973" stop-color="#c2bfdd"/></linearGradient>
<circle cx="156.70" cy="318.70" r="38.30" fill="url(#st110274)" stroke="#b0aeca" stroke-width="0.9"/>
<g fill="#5220dc" filter="url(#bl2)">
<circle cx="147.61" cy="282.00" r="2.10"/>
<circle cx="138.88" cy="283.74" r="1.22"/>
<circle cx="133.10" cy="288.45" r="2.27"/>
<circle cx="162.38" cy="287.10" r="2.10"/>
<circle cx="176.48" cy="286.43" r="2.27"/>
<circle cx="164.80" cy="290.73" r="1.05"/>
<circle cx="127.19" cy="296.50" r="2.10"/>
<circle cx="143.31" cy="294.89" r="2.10"/>
<circle cx="154.05" cy="292.74" r="2.10"/>
<circle cx="174.20" cy="296.91" r="3.49"/>
<circle cx="187.23" cy="298.79" r="2.62"/>
<circle cx="151.23" cy="299.86" r="2.10"/>
<circle cx="189.91" cy="304.16" r="1.57"/>
<circle cx="125.04" cy="304.96" r="2.27"/>
<circle cx="175.14" cy="308.32" r="1.75"/>
<circle cx="146.26" cy="313.02" r="2.79"/>
<circle cx="157.68" cy="316.65" r="1.22"/>
<circle cx="159.69" cy="318.66" r="2.10"/>
<circle cx="162.65" cy="319.07" r="2.44"/>
<circle cx="187.23" cy="316.92" r="1.92"/>
<circle cx="178.76" cy="318.93" r="0.87"/>
<circle cx="143.31" cy="319.60" r="1.92"/>
<circle cx="138.88" cy="325.38" r="2.27"/>
<circle cx="186.82" cy="330.48" r="3.14"/>
<circle cx="191.93" cy="329.41" r="2.10"/>
<circle cx="157.68" cy="333.71" r="1.40"/>
<circle cx="159.96" cy="336.12" r="1.05"/>
<circle cx="120.74" cy="336.80" r="1.57"/>
<circle cx="123.43" cy="339.88" r="2.62"/>
<circle cx="129.88" cy="341.90" r="2.27"/>
<circle cx="127.73" cy="346.60" r="1.92"/>
<circle cx="138.47" cy="348.88" r="2.97"/>
<circle cx="144.65" cy="346.20" r="1.75"/>
<circle cx="147.87" cy="344.99" r="1.05"/>
<circle cx="150.29" cy="347.67" r="1.22"/>
<circle cx="148.41" cy="350.63" r="1.92"/>
<circle cx="137.53" cy="353.32" r="1.75"/>
<circle cx="141.16" cy="355.60" r="1.22"/>
<circle cx="178.50" cy="340.82" r="1.22"/>
<circle cx="180.91" cy="342.17" r="1.75"/>
<circle cx="180.91" cy="345.12" r="2.27"/>
<circle cx="174.20" cy="351.17" r="1.92"/>
<circle cx="171.24" cy="354.12" r="2.10"/>
<circle cx="160.36" cy="357.61" r="1.75"/>
</g>
<text x="13.70" y="225.60" font-size="11" text-anchor="middle" fill="#111" transform="rotate(-90 13.70 225.60)">MKN-45</text>
<text x="13.70" y="319.30" font-size="11" text-anchor="middle" fill="#111" transform="rotate(-90 13.70 319.30)">HGC-27</text>
<text x="62.70" y="376.00" font-size="10.9" text-anchor="middle" fill="#111">shNC</text>
<text x="155.70" y="376.00" font-size="10.9" text-anchor="middle" fill="#111">shTYMS</text>
<line x1="46.50" y1="398.50" x2="46.50" y2="517.20" stroke="#333" stroke-width="1.0"/>
<line x1="43.30" y1="513.60" x2="46.50" y2="513.60" stroke="#333" stroke-width="1.0"/>
<text transform="translate(42.70 516.80) scale(0.91 1)" font-size="10.0" text-anchor="end" fill="#111">0</text>
<line x1="43.30" y1="475.40" x2="46.50" y2="475.40" stroke="#333" stroke-width="1.0"/>
<text transform="translate(42.70 478.60) scale(0.91 1)" font-size="10.0" text-anchor="end" fill="#111">50</text>
<line x1="43.30" y1="437.20" x2="46.50" y2="437.20" stroke="#333" stroke-width="1.0"/>
<text transform="translate(42.70 440.40) scale(0.91 1)" font-size="10.0" text-anchor="end" fill="#111">100</text>
<line x1="43.30" y1="399.00" x2="46.50" y2="399.00" stroke="#333" stroke-width="1.0"/>
<text transform="translate(42.70 402.20) scale(0.91 1)" font-size="10.0" text-anchor="end" fill="#111">150</text>
<line x1="46.00" y1="513.50" x2="219.00" y2="513.50" stroke="#333" stroke-width="1.0"/>
<line x1="66.12" y1="513.50" x2="66.12" y2="516.70" stroke="#333" stroke-width="1.0"/>
<line x1="85.75" y1="513.50" x2="85.75" y2="516.70" stroke="#333" stroke-width="1.0"/>
<line x1="105.38" y1="513.50" x2="105.38" y2="516.70" stroke="#333" stroke-width="1.0"/>
<line x1="125.00" y1="513.50" x2="125.00" y2="516.70" stroke="#333" stroke-width="1.0"/>
<line x1="144.62" y1="513.50" x2="144.62" y2="516.70" stroke="#333" stroke-width="1.0"/>
<line x1="164.25" y1="513.50" x2="164.25" y2="516.70" stroke="#333" stroke-width="1.0"/>
<line x1="183.88" y1="513.50" x2="183.88" y2="516.70" stroke="#333" stroke-width="1.0"/>
<line x1="203.50" y1="513.50" x2="203.50" y2="516.70" stroke="#333" stroke-width="1.0"/>
<path d="M46.50,437.20 L56.31,447.59 L66.12,459.36 L85.75,474.41 L125.00,483.04 L203.50,486.40" fill="none" stroke="#8ee6c2" stroke-width="1.0"/>
<line x1="46.50" y1="430.32" x2="46.50" y2="444.08" stroke="#8ee6c2" stroke-width="1.0"/>
<line x1="43.60" y1="430.32" x2="49.40" y2="430.32" stroke="#8ee6c2" stroke-width="1.0"/>
<line x1="43.60" y1="444.08" x2="49.40" y2="444.08" stroke="#8ee6c2" stroke-width="1.0"/>
<line x1="56.31" y1="441.48" x2="56.31" y2="453.70" stroke="#8ee6c2" stroke-width="1.0"/>
<line x1="53.41" y1="441.48" x2="59.21" y2="441.48" stroke="#8ee6c2" stroke-width="1.0"/>
<line x1="53.41" y1="453.70" x2="59.21" y2="453.70" stroke="#8ee6c2" stroke-width="1.0"/>
<line x1="66.12" y1="455.54" x2="66.12" y2="463.18" stroke="#8ee6c2" stroke-width="1.0"/>
<line x1="63.23" y1="455.54" x2="69.03" y2="455.54" stroke="#8ee6c2" stroke-width="1.0"/>
<line x1="63.23" y1="463.18" x2="69.03" y2="463.18" stroke="#8ee6c2" stroke-width="1.0"/>
<line x1="85.75" y1="469.06" x2="85.75" y2="479.75" stroke="#8ee6c2" stroke-width="1.0"/>
<line x1="82.85" y1="469.06" x2="88.65" y2="469.06" stroke="#8ee6c2" stroke-width="1.0"/>
<line x1="82.85" y1="479.75" x2="88.65" y2="479.75" stroke="#8ee6c2" stroke-width="1.0"/>
<line x1="125.00" y1="478.46" x2="125.00" y2="487.62" stroke="#8ee6c2" stroke-width="1.0"/>
<line x1="122.10" y1="478.46" x2="127.90" y2="478.46" stroke="#8ee6c2" stroke-width="1.0"/>
<line x1="122.10" y1="487.62" x2="127.90" y2="487.62" stroke="#8ee6c2" stroke-width="1.0"/>
<line x1="203.50" y1="482.58" x2="203.50" y2="490.22" stroke="#8ee6c2" stroke-width="1.0"/>
<line x1="200.60" y1="482.58" x2="206.40" y2="482.58" stroke="#8ee6c2" stroke-width="1.0"/>
<line x1="200.60" y1="490.22" x2="206.40" y2="490.22" stroke="#8ee6c2" stroke-width="1.0"/>
<circle cx="46.50" cy="437.20" r="2.8" fill="#8ee6c2"/>
<circle cx="56.31" cy="447.59" r="2.8" fill="#8ee6c2"/>
<circle cx="66.12" cy="459.36" r="2.8" fill="#8ee6c2"/>
<circle cx="85.75" cy="474.41" r="2.8" fill="#8ee6c2"/>
<circle cx="125.00" cy="483.04" r="2.8" fill="#8ee6c2"/>
<circle cx="203.50" cy="486.40" r="2.8" fill="#8ee6c2"/>
<path d="M46.50,437.20 L56.31,455.38 L66.12,471.43 L85.75,486.02 L125.00,498.63 L203.50,501.38" fill="none" stroke="#4f6cf2" stroke-width="1.0"/>
<line x1="46.50" y1="430.32" x2="46.50" y2="444.08" stroke="#4f6cf2" stroke-width="1.0"/>
<line x1="43.60" y1="430.32" x2="49.40" y2="430.32" stroke="#4f6cf2" stroke-width="1.0"/>
<line x1="43.60" y1="444.08" x2="49.40" y2="444.08" stroke="#4f6cf2" stroke-width="1.0"/>
<line x1="56.31" y1="451.56" x2="56.31" y2="459.20" stroke="#4f6cf2" stroke-width="1.0"/>
<line x1="53.41" y1="451.56" x2="59.21" y2="451.56" stroke="#4f6cf2" stroke-width="1.0"/>
<line x1="53.41" y1="459.20" x2="59.21" y2="459.20" stroke="#4f6cf2" stroke-width="1.0"/>
<line x1="66.12" y1="467.61" x2="66.12" y2="475.25" stroke="#4f6cf2" stroke-width="1.0"/>
<line x1="63.23" y1="467.61" x2="69.03" y2="467.61" stroke="#4f6cf2" stroke-width="1.0"/>
<line x1="63.23" y1="475.25" x2="69.03" y2="475.25" stroke="#4f6cf2" stroke-width="1.0"/>
<line x1="85.75" y1="481.44" x2="85.75" y2="490.60" stroke="#4f6cf2" stroke-width="1.0"/>
<line x1="82.85" y1="481.44" x2="88.65" y2="481.44" stroke="#4f6cf2" stroke-width="1.0"/>
<line x1="82.85" y1="490.60" x2="88.65" y2="490.60" stroke="#4f6cf2" stroke-width="1.0"/>
<line x1="125.00" y1="494.81" x2="125.00" y2="502.45" stroke="#4f6cf2" stroke-width="1.0"/>
<line x1="122.10" y1="494.81" x2="127.90" y2="494.81" stroke="#4f6cf2" stroke-width="1.0"/>
<line x1="122.10" y1="502.45" x2="127.90" y2="502.45" stroke="#4f6cf2" stroke-width="1.0"/>
<line x1="203.50" y1="498.32" x2="203.50" y2="504.43" stroke="#4f6cf2" stroke-width="1.0"/>
<line x1="200.60" y1="498.32" x2="206.40" y2="498.32" stroke="#4f6cf2" stroke-width="1.0"/>
<line x1="200.60" y1="504.43" x2="206.40" y2="504.43" stroke="#4f6cf2" stroke-width="1.0"/>
<rect x="43.70" y="434.60" width="5.60" height="5.20" fill="#4f6cf2"/>
<rect x="53.51" y="452.78" width="5.60" height="5.20" fill="#4f6cf2"/>
<rect x="63.33" y="468.83" width="5.60" height="5.20" fill="#4f6cf2"/>
<rect x="82.95" y="483.42" width="5.60" height="5.20" fill="#4f6cf2"/>
<rect x="122.20" y="496.03" width="5.60" height="5.20" fill="#4f6cf2"/>
<rect x="200.70" y="498.78" width="5.60" height="5.20" fill="#4f6cf2"/>
<text transform="translate(46.50 525.50) scale(0.91 1)" font-size="10.0" text-anchor="middle" fill="#111">0</text>
<text transform="translate(66.12 525.50) scale(0.91 1)" font-size="10.0" text-anchor="middle" fill="#111">40</text>
<text transform="translate(85.75 525.50) scale(0.91 1)" font-size="10.0" text-anchor="middle" fill="#111">80</text>
<text transform="translate(105.38 525.50) scale(0.91 1)" font-size="10.0" text-anchor="middle" fill="#111">120</text>
<text transform="translate(125.00 525.50) scale(0.91 1)" font-size="10.0" text-anchor="middle" fill="#111">160</text>
<text transform="translate(144.62 525.50) scale(0.91 1)" font-size="10.0" text-anchor="middle" fill="#111">200</text>
<text transform="translate(164.25 525.50) scale(0.91 1)" font-size="10.0" text-anchor="middle" fill="#111">240</text>
<text transform="translate(183.88 525.50) scale(0.91 1)" font-size="10.0" text-anchor="middle" fill="#111">280</text>
<text transform="translate(203.50 525.50) scale(0.91 1)" font-size="10.0" text-anchor="middle" fill="#111">320</text>
<text x="134.00" y="542.20" font-size="11.15" text-anchor="middle" fill="#111">5-FU (ng/mL)</text>
<text x="17.60" y="456.60" font-size="11.3" text-anchor="middle" fill="#111" transform="rotate(-90 17.60 456.60)">Cell viability (%)</text>
<text x="52.30" y="395.00" font-size="10.9" text-anchor="start" fill="#111">MKN-45</text>
<line x1="50.10" y1="410.60" x2="63.10" y2="410.60" stroke="#8ee6c2" stroke-width="1.0"/>
<circle cx="56.60" cy="410.60" r="2.8" fill="#8ee6c2"/>
<text x="70.00" y="414.00" font-size="9.4" text-anchor="start" fill="#111">shNC</text>
<line x1="50.10" y1="423.40" x2="63.10" y2="423.40" stroke="#4f6cf2" stroke-width="1.0"/>
<rect x="53.80" y="420.80" width="5.60" height="5.20" fill="#4f6cf2"/>
<text x="70.00" y="426.80" font-size="9.4" text-anchor="start" fill="#111">shTYMS</text>
<line x1="46.50" y1="582.50" x2="46.50" y2="701.20" stroke="#333" stroke-width="1.0"/>
<line x1="43.30" y1="697.60" x2="46.50" y2="697.60" stroke="#333" stroke-width="1.0"/>
<text transform="translate(42.70 700.80) scale(0.91 1)" font-size="10.0" text-anchor="end" fill="#111">0</text>
<line x1="43.30" y1="659.40" x2="46.50" y2="659.40" stroke="#333" stroke-width="1.0"/>
<text transform="translate(42.70 662.60) scale(0.91 1)" font-size="10.0" text-anchor="end" fill="#111">50</text>
<line x1="43.30" y1="621.20" x2="46.50" y2="621.20" stroke="#333" stroke-width="1.0"/>
<text transform="translate(42.70 624.40) scale(0.91 1)" font-size="10.0" text-anchor="end" fill="#111">100</text>
<line x1="43.30" y1="583.00" x2="46.50" y2="583.00" stroke="#333" stroke-width="1.0"/>
<text transform="translate(42.70 586.20) scale(0.91 1)" font-size="10.0" text-anchor="end" fill="#111">150</text>
<line x1="46.00" y1="697.60" x2="219.00" y2="697.60" stroke="#555" stroke-width="1.3"/>
<line x1="66.12" y1="697.60" x2="66.12" y2="700.80" stroke="#555" stroke-width="1.3"/>
<line x1="85.75" y1="697.60" x2="85.75" y2="700.80" stroke="#555" stroke-width="1.3"/>
<line x1="105.38" y1="697.60" x2="105.38" y2="700.80" stroke="#555" stroke-width="1.3"/>
<line x1="125.00" y1="697.60" x2="125.00" y2="700.80" stroke="#555" stroke-width="1.3"/>
<line x1="144.62" y1="697.60" x2="144.62" y2="700.80" stroke="#555" stroke-width="1.3"/>
<line x1="164.25" y1="697.60" x2="164.25" y2="700.80" stroke="#555" stroke-width="1.3"/>
<line x1="183.88" y1="697.60" x2="183.88" y2="700.80" stroke="#555" stroke-width="1.3"/>
<line x1="203.50" y1="697.60" x2="203.50" y2="700.80" stroke="#555" stroke-width="1.3"/>
<path d="M46.50,621.20 L56.31,631.28 L66.12,640.07 L85.75,652.14 L125.00,664.21 L203.50,671.24" fill="none" stroke="#8ee6c2" stroke-width="1.0"/>
<line x1="46.50" y1="610.50" x2="46.50" y2="631.90" stroke="#8ee6c2" stroke-width="1.0"/>
<line x1="43.60" y1="610.50" x2="49.40" y2="610.50" stroke="#8ee6c2" stroke-width="1.0"/>
<line x1="43.60" y1="631.90" x2="49.40" y2="631.90" stroke="#8ee6c2" stroke-width="1.0"/>
<line x1="56.31" y1="624.41" x2="56.31" y2="638.16" stroke="#8ee6c2" stroke-width="1.0"/>
<line x1="53.41" y1="624.41" x2="59.21" y2="624.41" stroke="#8ee6c2" stroke-width="1.0"/>
<line x1="53.41" y1="638.16" x2="59.21" y2="638.16" stroke="#8ee6c2" stroke-width="1.0"/>
<line x1="66.12" y1="635.49" x2="66.12" y2="644.65" stroke="#8ee6c2" stroke-width="1.0"/>
<line x1="63.23" y1="635.49" x2="69.03" y2="635.49" stroke="#8ee6c2" stroke-width="1.0"/>
<line x1="63.23" y1="644.65" x2="69.03" y2="644.65" stroke="#8ee6c2" stroke-width="1.0"/>
<line x1="85.75" y1="646.79" x2="85.75" y2="657.49" stroke="#8ee6c2" stroke-width="1.0"/>
<line x1="82.85" y1="646.79" x2="88.65" y2="646.79" stroke="#8ee6c2" stroke-width="1.0"/>
<line x1="82.85" y1="657.49" x2="88.65" y2="657.49" stroke="#8ee6c2" stroke-width="1.0"/>
<line x1="125.00" y1="659.63" x2="125.00" y2="668.80" stroke="#8ee6c2" stroke-width="1.0"/>
<line x1="122.10" y1="659.63" x2="127.90" y2="659.63" stroke="#8ee6c2" stroke-width="1.0"/>
<line x1="122.10" y1="668.80" x2="127.90" y2="668.80" stroke="#8ee6c2" stroke-width="1.0"/>
<line x1="203.50" y1="667.42" x2="203.50" y2="675.06" stroke="#8ee6c2" stroke-width="1.0"/>
<line x1="200.60" y1="667.42" x2="206.40" y2="667.42" stroke="#8ee6c2" stroke-width="1.0"/>
<line x1="200.60" y1="675.06" x2="206.40" y2="675.06" stroke="#8ee6c2" stroke-width="1.0"/>
<circle cx="46.50" cy="621.20" r="2.8" fill="#8ee6c2"/>
<circle cx="56.31" cy="631.28" r="2.8" fill="#8ee6c2"/>
<circle cx="66.12" cy="640.07" r="2.8" fill="#8ee6c2"/>
<circle cx="85.75" cy="652.14" r="2.8" fill="#8ee6c2"/>
<circle cx="125.00" cy="664.21" r="2.8" fill="#8ee6c2"/>
<circle cx="203.50" cy="671.24" r="2.8" fill="#8ee6c2"/>
<path d="M46.50,621.20 L56.31,637.09 L66.12,659.17 L85.75,667.42 L125.00,678.50 L203.50,683.54" fill="none" stroke="#4f6cf2" stroke-width="1.0"/>
<line x1="46.50" y1="610.50" x2="46.50" y2="631.90" stroke="#4f6cf2" stroke-width="1.0"/>
<line x1="43.60" y1="610.50" x2="49.40" y2="610.50" stroke="#4f6cf2" stroke-width="1.0"/>
<line x1="43.60" y1="631.90" x2="49.40" y2="631.90" stroke="#4f6cf2" stroke-width="1.0"/>
<line x1="56.31" y1="630.22" x2="56.31" y2="643.97" stroke="#4f6cf2" stroke-width="1.0"/>
<line x1="53.41" y1="630.22" x2="59.21" y2="630.22" stroke="#4f6cf2" stroke-width="1.0"/>
<line x1="53.41" y1="643.97" x2="59.21" y2="643.97" stroke="#4f6cf2" stroke-width="1.0"/>
<line x1="66.12" y1="655.35" x2="66.12" y2="662.99" stroke="#4f6cf2" stroke-width="1.0"/>
<line x1="63.23" y1="655.35" x2="69.03" y2="655.35" stroke="#4f6cf2" stroke-width="1.0"/>
<line x1="63.23" y1="662.99" x2="69.03" y2="662.99" stroke="#4f6cf2" stroke-width="1.0"/>
<line x1="85.75" y1="662.84" x2="85.75" y2="672.01" stroke="#4f6cf2" stroke-width="1.0"/>
<line x1="82.85" y1="662.84" x2="88.65" y2="662.84" stroke="#4f6cf2" stroke-width="1.0"/>
<line x1="82.85" y1="672.01" x2="88.65" y2="672.01" stroke="#4f6cf2" stroke-width="1.0"/>
<line x1="125.00" y1="675.44" x2="125.00" y2="681.56" stroke="#4f6cf2" stroke-width="1.0"/>
<line x1="122.10" y1="675.44" x2="127.90" y2="675.44" stroke="#4f6cf2" stroke-width="1.0"/>
<line x1="122.10" y1="681.56" x2="127.90" y2="681.56" stroke="#4f6cf2" stroke-width="1.0"/>
<line x1="203.50" y1="679.72" x2="203.50" y2="687.36" stroke="#4f6cf2" stroke-width="1.0"/>
<line x1="200.60" y1="679.72" x2="206.40" y2="679.72" stroke="#4f6cf2" stroke-width="1.0"/>
<line x1="200.60" y1="687.36" x2="206.40" y2="687.36" stroke="#4f6cf2" stroke-width="1.0"/>
<rect x="43.70" y="618.60" width="5.60" height="5.20" fill="#4f6cf2"/>
<rect x="53.51" y="634.49" width="5.60" height="5.20" fill="#4f6cf2"/>
<rect x="63.33" y="656.57" width="5.60" height="5.20" fill="#4f6cf2"/>
<rect x="82.95" y="664.82" width="5.60" height="5.20" fill="#4f6cf2"/>
<rect x="122.20" y="675.90" width="5.60" height="5.20" fill="#4f6cf2"/>
<rect x="200.70" y="680.94" width="5.60" height="5.20" fill="#4f6cf2"/>
<text transform="translate(46.50 709.50) scale(0.91 1)" font-size="10.0" text-anchor="middle" fill="#111">0</text>
<text transform="translate(66.12 709.50) scale(0.91 1)" font-size="10.0" text-anchor="middle" fill="#111">40</text>
<text transform="translate(85.75 709.50) scale(0.91 1)" font-size="10.0" text-anchor="middle" fill="#111">80</text>
<text transform="translate(105.38 709.50) scale(0.91 1)" font-size="10.0" text-anchor="middle" fill="#111">120</text>
<text transform="translate(125.00 709.50) scale(0.91 1)" font-size="10.0" text-anchor="middle" fill="#111">160</text>
<text transform="translate(144.62 709.50) scale(0.91 1)" font-size="10.0" text-anchor="middle" fill="#111">200</text>
<text transform="translate(164.25 709.50) scale(0.91 1)" font-size="10.0" text-anchor="middle" fill="#111">240</text>
<text transform="translate(183.88 709.50) scale(0.91 1)" font-size="10.0" text-anchor="middle" fill="#111">280</text>
<text transform="translate(203.50 709.50) scale(0.91 1)" font-size="10.0" text-anchor="middle" fill="#111">320</text>
<text x="134.00" y="726.20" font-size="11.15" text-anchor="middle" fill="#111">5-FU (ng/mL)</text>
<text x="17.60" y="638.80" font-size="11.3" text-anchor="middle" fill="#111" transform="rotate(-90 17.60 638.80)">Cell viability (%)</text>
<text x="52.30" y="583.00" font-size="10.9" text-anchor="start" fill="#111">HGC-27</text>
<line x1="50.10" y1="594.60" x2="63.10" y2="594.60" stroke="#8ee6c2" stroke-width="1.0"/>
<circle cx="56.60" cy="594.60" r="2.8" fill="#8ee6c2"/>
<text x="70.00" y="598.00" font-size="9.4" text-anchor="start" fill="#111">shNC</text>
<line x1="50.10" y1="607.40" x2="63.10" y2="607.40" stroke="#4f6cf2" stroke-width="1.0"/>
<rect x="53.80" y="604.80" width="5.60" height="5.20" fill="#4f6cf2"/>
<text x="70.00" y="610.80" font-size="9.4" text-anchor="start" fill="#111">shTYMS</text>
<line x1="278.50" y1="398.50" x2="278.50" y2="517.00" stroke="#333" stroke-width="1.0"/>
<line x1="275.30" y1="513.60" x2="278.50" y2="513.60" stroke="#333" stroke-width="1.0"/>
<text transform="translate(274.70 516.80) scale(0.91 1)" font-size="10.0" text-anchor="end" fill="#111">0</text>
<line x1="275.30" y1="475.40" x2="278.50" y2="475.40" stroke="#333" stroke-width="1.0"/>
<text transform="translate(274.70 478.60) scale(0.91 1)" font-size="10.0" text-anchor="end" fill="#111">50</text>
<line x1="275.30" y1="437.20" x2="278.50" y2="437.20" stroke="#333" stroke-width="1.0"/>
<text transform="translate(274.70 440.40) scale(0.91 1)" font-size="10.0" text-anchor="end" fill="#111">100</text>
<line x1="275.30" y1="399.00" x2="278.50" y2="399.00" stroke="#333" stroke-width="1.0"/>
<text transform="translate(274.70 402.20) scale(0.91 1)" font-size="10.0" text-anchor="end" fill="#111">150</text>
<line x1="278.00" y1="513.60" x2="450.80" y2="513.60" stroke="#333" stroke-width="1.0"/>
<line x1="309.60" y1="513.60" x2="309.60" y2="516.80" stroke="#333" stroke-width="1.0"/>
<line x1="340.80" y1="513.60" x2="340.80" y2="516.80" stroke="#333" stroke-width="1.0"/>
<line x1="372.00" y1="513.60" x2="372.00" y2="516.80" stroke="#333" stroke-width="1.0"/>
<line x1="403.20" y1="513.60" x2="403.20" y2="516.80" stroke="#333" stroke-width="1.0"/>
<line x1="434.40" y1="513.60" x2="434.40" y2="516.80" stroke="#333" stroke-width="1.0"/>
<path d="M309.60,447.13 L340.80,456.38 L372.00,468.37 L403.20,480.37 L434.40,487.17" fill="none" stroke="#8ee6c2" stroke-width="1.0"/>
<line x1="309.60" y1="440.26" x2="309.60" y2="454.01" stroke="#8ee6c2" stroke-width="1.0"/>
<line x1="306.70" y1="440.26" x2="312.50" y2="440.26" stroke="#8ee6c2" stroke-width="1.0"/>
<line x1="306.70" y1="454.01" x2="312.50" y2="454.01" stroke="#8ee6c2" stroke-width="1.0"/>
<line x1="340.80" y1="451.79" x2="340.80" y2="460.96" stroke="#8ee6c2" stroke-width="1.0"/>
<line x1="337.90" y1="451.79" x2="343.70" y2="451.79" stroke="#8ee6c2" stroke-width="1.0"/>
<line x1="337.90" y1="460.96" x2="343.70" y2="460.96" stroke="#8ee6c2" stroke-width="1.0"/>
<line x1="372.00" y1="463.79" x2="372.00" y2="472.96" stroke="#8ee6c2" stroke-width="1.0"/>
<line x1="369.10" y1="463.79" x2="374.90" y2="463.79" stroke="#8ee6c2" stroke-width="1.0"/>
<line x1="369.10" y1="472.96" x2="374.90" y2="472.96" stroke="#8ee6c2" stroke-width="1.0"/>
<line x1="403.20" y1="475.78" x2="403.20" y2="484.95" stroke="#8ee6c2" stroke-width="1.0"/>
<line x1="400.30" y1="475.78" x2="406.10" y2="475.78" stroke="#8ee6c2" stroke-width="1.0"/>
<line x1="400.30" y1="484.95" x2="406.10" y2="484.95" stroke="#8ee6c2" stroke-width="1.0"/>
<line x1="434.40" y1="483.35" x2="434.40" y2="490.99" stroke="#8ee6c2" stroke-width="1.0"/>
<line x1="431.50" y1="483.35" x2="437.30" y2="483.35" stroke="#8ee6c2" stroke-width="1.0"/>
<line x1="431.50" y1="490.99" x2="437.30" y2="490.99" stroke="#8ee6c2" stroke-width="1.0"/>
<circle cx="309.60" cy="447.13" r="2.8" fill="#8ee6c2"/>
<circle cx="340.80" cy="456.38" r="2.8" fill="#8ee6c2"/>
<circle cx="372.00" cy="468.37" r="2.8" fill="#8ee6c2"/>
<circle cx="403.20" cy="480.37" r="2.8" fill="#8ee6c2"/>
<circle cx="434.40" cy="487.17" r="2.8" fill="#8ee6c2"/>
<path d="M309.60,453.24 L340.80,474.41 L372.00,483.57 L403.20,494.58 L434.40,499.62" fill="none" stroke="#4f6cf2" stroke-width="1.0"/>
<line x1="309.60" y1="446.37" x2="309.60" y2="460.12" stroke="#4f6cf2" stroke-width="1.0"/>
<line x1="306.70" y1="446.37" x2="312.50" y2="446.37" stroke="#4f6cf2" stroke-width="1.0"/>
<line x1="306.70" y1="460.12" x2="312.50" y2="460.12" stroke="#4f6cf2" stroke-width="1.0"/>
<line x1="340.80" y1="469.82" x2="340.80" y2="478.99" stroke="#4f6cf2" stroke-width="1.0"/>
<line x1="337.90" y1="469.82" x2="343.70" y2="469.82" stroke="#4f6cf2" stroke-width="1.0"/>
<line x1="337.90" y1="478.99" x2="343.70" y2="478.99" stroke="#4f6cf2" stroke-width="1.0"/>
<line x1="372.00" y1="478.99" x2="372.00" y2="488.16" stroke="#4f6cf2" stroke-width="1.0"/>
<line x1="369.10" y1="478.99" x2="374.90" y2="478.99" stroke="#4f6cf2" stroke-width="1.0"/>
<line x1="369.10" y1="488.16" x2="374.90" y2="488.16" stroke="#4f6cf2" stroke-width="1.0"/>
<line x1="403.20" y1="490.76" x2="403.20" y2="498.40" stroke="#4f6cf2" stroke-width="1.0"/>
<line x1="400.30" y1="490.76" x2="406.10" y2="490.76" stroke="#4f6cf2" stroke-width="1.0"/>
<line x1="400.30" y1="498.40" x2="406.10" y2="498.40" stroke="#4f6cf2" stroke-width="1.0"/>
<line x1="434.40" y1="495.80" x2="434.40" y2="503.44" stroke="#4f6cf2" stroke-width="1.0"/>
<line x1="431.50" y1="495.80" x2="437.30" y2="495.80" stroke="#4f6cf2" stroke-width="1.0"/>
<line x1="431.50" y1="503.44" x2="437.30" y2="503.44" stroke="#4f6cf2" stroke-width="1.0"/>
<rect x="306.80" y="450.64" width="5.60" height="5.20" fill="#4f6cf2"/>
<rect x="338.00" y="471.81" width="5.60" height="5.20" fill="#4f6cf2"/>
<rect x="369.20" y="480.97" width="5.60" height="5.20" fill="#4f6cf2"/>
<rect x="400.40" y="491.98" width="5.60" height="5.20" fill="#4f6cf2"/>
<rect x="431.60" y="497.02" width="5.60" height="5.20" fill="#4f6cf2"/>
<text transform="translate(315.00 524.00) rotate(-45) scale(0.91 1)" font-size="10.0" text-anchor="end" fill="#111">1.301</text>
<text transform="translate(346.20 524.00) rotate(-45) scale(0.91 1)" font-size="10.0" text-anchor="end" fill="#111">1.602</text>
<text transform="translate(377.40 524.00) rotate(-45) scale(0.91 1)" font-size="10.0" text-anchor="end" fill="#111">1.903</text>
<text transform="translate(408.60 524.00) rotate(-45) scale(0.91 1)" font-size="10.0" text-anchor="end" fill="#111">2.204</text>
<text transform="translate(439.80 524.00) rotate(-45) scale(0.91 1)" font-size="10.0" text-anchor="end" fill="#111">2.505</text>
<text x="361.50" y="553.80" font-size="11.1" text-anchor="middle" fill="#111">Log (5-FU concentration)</text>
<text x="248.80" y="456.60" font-size="11" text-anchor="middle" fill="#111" transform="rotate(-90 248.80 456.60)">Cell viability (%)</text>
<text x="280.40" y="395.00" font-size="10.9" text-anchor="start" fill="#111">MKN-45</text>
<line x1="282.30" y1="487.60" x2="295.30" y2="487.60" stroke="#8ee6c2" stroke-width="1.0"/>
<circle cx="288.80" cy="487.60" r="2.8" fill="#8ee6c2"/>
<text x="301.60" y="491.00" font-size="9.4" text-anchor="start" fill="#111">shNC</text>
<line x1="282.30" y1="500.80" x2="295.30" y2="500.80" stroke="#4f6cf2" stroke-width="1.0"/>
<rect x="286.00" y="498.20" width="5.60" height="5.20" fill="#4f6cf2"/>
<text x="301.60" y="504.20" font-size="9.4" text-anchor="start" fill="#111">shTYMS</text>
<line x1="278.60" y1="582.50" x2="278.60" y2="698.10" stroke="#333" stroke-width="1.0"/>
<line x1="275.40" y1="697.60" x2="278.60" y2="697.60" stroke="#333" stroke-width="1.0"/>
<text transform="translate(274.80 700.80) scale(0.91 1)" font-size="10.0" text-anchor="end" fill="#111">0</text>
<line x1="275.40" y1="674.68" x2="278.60" y2="674.68" stroke="#333" stroke-width="1.0"/>
<text transform="translate(274.80 677.88) scale(0.91 1)" font-size="10.0" text-anchor="end" fill="#111">20</text>
<line x1="275.40" y1="651.76" x2="278.60" y2="651.76" stroke="#333" stroke-width="1.0"/>
<text transform="translate(274.80 654.96) scale(0.91 1)" font-size="10.0" text-anchor="end" fill="#111">40</text>
<line x1="275.40" y1="628.84" x2="278.60" y2="628.84" stroke="#333" stroke-width="1.0"/>
<text transform="translate(274.80 632.04) scale(0.91 1)" font-size="10.0" text-anchor="end" fill="#111">60</text>
<line x1="275.40" y1="605.92" x2="278.60" y2="605.92" stroke="#333" stroke-width="1.0"/>
<text transform="translate(274.80 609.12) scale(0.91 1)" font-size="10.0" text-anchor="end" fill="#111">80</text>
<line x1="275.40" y1="583.00" x2="278.60" y2="583.00" stroke="#333" stroke-width="1.0"/>
<text transform="translate(274.80 586.20) scale(0.91 1)" font-size="10.0" text-anchor="end" fill="#111">100</text>
<line x1="278.10" y1="697.50" x2="450.80" y2="697.50" stroke="#555" stroke-width="1.4"/>
<line x1="309.60" y1="697.50" x2="309.60" y2="700.70" stroke="#555" stroke-width="1.4"/>
<line x1="340.80" y1="697.50" x2="340.80" y2="700.70" stroke="#555" stroke-width="1.4"/>
<line x1="372.00" y1="697.50" x2="372.00" y2="700.70" stroke="#555" stroke-width="1.4"/>
<line x1="403.20" y1="697.50" x2="403.20" y2="700.70" stroke="#555" stroke-width="1.4"/>
<line x1="434.40" y1="697.50" x2="434.40" y2="700.70" stroke="#555" stroke-width="1.4"/>
<path d="M309.60,598.70 L340.80,616.23 L372.00,638.81 L403.20,652.22 L434.40,656.92" fill="none" stroke="#8ee6c2" stroke-width="1.0"/>
<line x1="309.60" y1="588.39" x2="309.60" y2="609.01" stroke="#8ee6c2" stroke-width="1.0"/>
<line x1="306.70" y1="588.39" x2="312.50" y2="588.39" stroke="#8ee6c2" stroke-width="1.0"/>
<line x1="306.70" y1="609.01" x2="312.50" y2="609.01" stroke="#8ee6c2" stroke-width="1.0"/>
<line x1="340.80" y1="609.93" x2="340.80" y2="622.54" stroke="#8ee6c2" stroke-width="1.0"/>
<line x1="337.90" y1="609.93" x2="343.70" y2="609.93" stroke="#8ee6c2" stroke-width="1.0"/>
<line x1="337.90" y1="622.54" x2="343.70" y2="622.54" stroke="#8ee6c2" stroke-width="1.0"/>
<line x1="372.00" y1="630.22" x2="372.00" y2="647.41" stroke="#8ee6c2" stroke-width="1.0"/>
<line x1="369.10" y1="630.22" x2="374.90" y2="630.22" stroke="#8ee6c2" stroke-width="1.0"/>
<line x1="369.10" y1="647.41" x2="374.90" y2="647.41" stroke="#8ee6c2" stroke-width="1.0"/>
<line x1="403.20" y1="644.20" x2="403.20" y2="660.24" stroke="#8ee6c2" stroke-width="1.0"/>
<line x1="400.30" y1="644.20" x2="406.10" y2="644.20" stroke="#8ee6c2" stroke-width="1.0"/>
<line x1="400.30" y1="660.24" x2="406.10" y2="660.24" stroke="#8ee6c2" stroke-width="1.0"/>
<line x1="434.40" y1="650.61" x2="434.40" y2="663.22" stroke="#8ee6c2" stroke-width="1.0"/>
<line x1="431.50" y1="650.61" x2="437.30" y2="650.61" stroke="#8ee6c2" stroke-width="1.0"/>
<line x1="431.50" y1="663.22" x2="437.30" y2="663.22" stroke="#8ee6c2" stroke-width="1.0"/>
<circle cx="309.60" cy="598.70" r="2.8" fill="#8ee6c2"/>
<circle cx="340.80" cy="616.23" r="2.8" fill="#8ee6c2"/>
<circle cx="372.00" cy="638.81" r="2.8" fill="#8ee6c2"/>
<circle cx="403.20" cy="652.22" r="2.8" fill="#8ee6c2"/>
<circle cx="434.40" cy="656.92" r="2.8" fill="#8ee6c2"/>
<path d="M309.60,609.70 L340.80,634.46 L372.00,655.89 L403.20,675.37 L434.40,679.49" fill="none" stroke="#4f6cf2" stroke-width="1.0"/>
<line x1="309.60" y1="602.83" x2="309.60" y2="616.58" stroke="#4f6cf2" stroke-width="1.0"/>
<line x1="306.70" y1="602.83" x2="312.50" y2="602.83" stroke="#4f6cf2" stroke-width="1.0"/>
<line x1="306.70" y1="616.58" x2="312.50" y2="616.58" stroke="#4f6cf2" stroke-width="1.0"/>
<line x1="340.80" y1="628.73" x2="340.80" y2="640.19" stroke="#4f6cf2" stroke-width="1.0"/>
<line x1="337.90" y1="628.73" x2="343.70" y2="628.73" stroke="#4f6cf2" stroke-width="1.0"/>
<line x1="337.90" y1="640.19" x2="343.70" y2="640.19" stroke="#4f6cf2" stroke-width="1.0"/>
<line x1="372.00" y1="647.29" x2="372.00" y2="664.48" stroke="#4f6cf2" stroke-width="1.0"/>
<line x1="369.10" y1="647.29" x2="374.90" y2="647.29" stroke="#4f6cf2" stroke-width="1.0"/>
<line x1="369.10" y1="664.48" x2="374.90" y2="664.48" stroke="#4f6cf2" stroke-width="1.0"/>
<line x1="403.20" y1="668.49" x2="403.20" y2="682.24" stroke="#4f6cf2" stroke-width="1.0"/>
<line x1="400.30" y1="668.49" x2="406.10" y2="668.49" stroke="#4f6cf2" stroke-width="1.0"/>
<line x1="400.30" y1="682.24" x2="406.10" y2="682.24" stroke="#4f6cf2" stroke-width="1.0"/>
<line x1="434.40" y1="674.91" x2="434.40" y2="684.08" stroke="#4f6cf2" stroke-width="1.0"/>
<line x1="431.50" y1="674.91" x2="437.30" y2="674.91" stroke="#4f6cf2" stroke-width="1.0"/>
<line x1="431.50" y1="684.08" x2="437.30" y2="684.08" stroke="#4f6cf2" stroke-width="1.0"/>
<rect x="306.80" y="607.10" width="5.60" height="5.20" fill="#4f6cf2"/>
<rect x="338.00" y="631.86" width="5.60" height="5.20" fill="#4f6cf2"/>
<rect x="369.20" y="653.29" width="5.60" height="5.20" fill="#4f6cf2"/>
<rect x="400.40" y="672.77" width="5.60" height="5.20" fill="#4f6cf2"/>
<rect x="431.60" y="676.89" width="5.60" height="5.20" fill="#4f6cf2"/>
<text transform="translate(315.00 708.00) rotate(-45) scale(0.91 1)" font-size="10.0" text-anchor="end" fill="#111">1.301</text>
<text transform="translate(346.20 708.00) rotate(-45) scale(0.91 1)" font-size="10.0" text-anchor="end" fill="#111">1.602</text>
<text transform="translate(377.40 708.00) rotate(-45) scale(0.91 1)" font-size="10.0" text-anchor="end" fill="#111">1.903</text>
<text transform="translate(408.60 708.00) rotate(-45) scale(0.91 1)" font-size="10.0" text-anchor="end" fill="#111">2.204</text>
<text transform="translate(439.80 708.00) rotate(-45) scale(0.91 1)" font-size="10.0" text-anchor="end" fill="#111">2.505</text>
<text x="361.50" y="737.80" font-size="11.1" text-anchor="middle" fill="#111">Log (5-FU concentration)</text>
<text x="248.80" y="640.60" font-size="11" text-anchor="middle" fill="#111" transform="rotate(-90 248.80 640.60)">Cell viability (%)</text>
<text x="280.40" y="583.40" font-size="10.9" text-anchor="start" fill="#111">HGC-27</text>
<line x1="282.30" y1="673.00" x2="295.30" y2="673.00" stroke="#8ee6c2" stroke-width="1.0"/>
<circle cx="288.80" cy="673.00" r="2.8" fill="#8ee6c2"/>
<text x="301.60" y="676.40" font-size="9.4" text-anchor="start" fill="#111">shNC</text>
<line x1="282.30" y1="686.20" x2="295.30" y2="686.20" stroke="#4f6cf2" stroke-width="1.0"/>
<rect x="286.00" y="683.60" width="5.60" height="5.20" fill="#4f6cf2"/>
<text x="301.60" y="689.60" font-size="9.4" text-anchor="start" fill="#111">shTYMS</text>
<line x1="552.60" y1="446.53" x2="552.60" y2="429.57" stroke="#2a2a2a" stroke-width="1.0"/>
<line x1="537.80" y1="429.57" x2="567.40" y2="429.57" stroke="#2a2a2a" stroke-width="1.0"/>
<rect x="523.80" y="446.53" width="57.60" height="67.27" fill="#8cf0c4" stroke="#2a2a2a" stroke-width="1.0"/>
<line x1="639.80" y1="484.46" x2="639.80" y2="477.47" stroke="#2a2a2a" stroke-width="1.0"/>
<line x1="625.00" y1="477.47" x2="654.60" y2="477.47" stroke="#2a2a2a" stroke-width="1.0"/>
<rect x="610.80" y="484.46" width="58.00" height="29.34" fill="#5470fa" stroke="#2a2a2a" stroke-width="1.0"/>
<text x="639.80" y="477.17" font-size="9.2" text-anchor="middle" fill="#111" font-weight="bold">*</text>
<line x1="508.80" y1="398.70" x2="508.80" y2="514.50" stroke="#888" stroke-width="1.5"/>
<line x1="505.60" y1="513.80" x2="508.80" y2="513.80" stroke="#888" stroke-width="1.5"/>
<text transform="translate(505.00 517.00) scale(0.91 1)" font-size="10.0" text-anchor="end" fill="#111">0</text>
<line x1="505.60" y1="485.15" x2="508.80" y2="485.15" stroke="#888" stroke-width="1.5"/>
<text transform="translate(505.00 488.35) scale(0.91 1)" font-size="10.0" text-anchor="end" fill="#111">50</text>
<line x1="505.60" y1="456.50" x2="508.80" y2="456.50" stroke="#888" stroke-width="1.5"/>
<text transform="translate(505.00 459.70) scale(0.91 1)" font-size="10.0" text-anchor="end" fill="#111">100</text>
<line x1="505.60" y1="427.85" x2="508.80" y2="427.85" stroke="#888" stroke-width="1.5"/>
<text transform="translate(505.00 431.05) scale(0.91 1)" font-size="10.0" text-anchor="end" fill="#111">150</text>
<line x1="505.60" y1="399.20" x2="508.80" y2="399.20" stroke="#888" stroke-width="1.5"/>
<text transform="translate(505.00 402.40) scale(0.91 1)" font-size="10.0" text-anchor="end" fill="#111">200</text>
<line x1="508.30" y1="514.00" x2="684.50" y2="514.00" stroke="#777" stroke-width="1.4"/>
<line x1="552.60" y1="514.00" x2="552.60" y2="517.20" stroke="#777" stroke-width="1.4"/>
<line x1="639.80" y1="514.00" x2="639.80" y2="517.20" stroke="#777" stroke-width="1.4"/>
<text x="552.60" y="531.40" font-size="10.8" text-anchor="middle" fill="#111">shNC</text>
<text x="639.80" y="531.40" font-size="10.8" text-anchor="middle" fill="#111">shTYMS</text>
<text x="477.40" y="457.00" font-size="11" text-anchor="middle" fill="#111" transform="rotate(-90 477.40 457.00)">5-FU IC50 (ng/mL)</text>
<text x="513.20" y="395.00" font-size="10.9" text-anchor="start" fill="#111">MKN-45</text>
<line x1="552.60" y1="619.30" x2="552.60" y2="601.25" stroke="#2a2a2a" stroke-width="1.0"/>
<line x1="537.80" y1="601.25" x2="567.40" y2="601.25" stroke="#2a2a2a" stroke-width="1.0"/>
<rect x="523.80" y="619.30" width="57.60" height="78.50" fill="#8cf0c4" stroke="#2a2a2a" stroke-width="1.0"/>
<line x1="639.80" y1="666.17" x2="639.80" y2="656.54" stroke="#2a2a2a" stroke-width="1.0"/>
<line x1="625.00" y1="656.54" x2="654.60" y2="656.54" stroke="#2a2a2a" stroke-width="1.0"/>
<rect x="610.80" y="666.17" width="58.00" height="31.63" fill="#5470fa" stroke="#2a2a2a" stroke-width="1.0"/>
<text x="639.80" y="656.24" font-size="9.2" text-anchor="middle" fill="#111" font-weight="bold">*</text>
<line x1="508.95" y1="582.70" x2="508.95" y2="698.90" stroke="#888" stroke-width="1.5"/>
<line x1="505.75" y1="697.80" x2="508.95" y2="697.80" stroke="#888" stroke-width="1.5"/>
<text transform="translate(505.15 701.00) scale(0.91 1)" font-size="10.0" text-anchor="end" fill="#111">0</text>
<line x1="505.75" y1="669.15" x2="508.95" y2="669.15" stroke="#888" stroke-width="1.5"/>
<text transform="translate(505.15 672.35) scale(0.91 1)" font-size="10.0" text-anchor="end" fill="#111">50</text>
<line x1="505.75" y1="640.50" x2="508.95" y2="640.50" stroke="#888" stroke-width="1.5"/>
<text transform="translate(505.15 643.70) scale(0.91 1)" font-size="10.0" text-anchor="end" fill="#111">100</text>
<line x1="505.75" y1="611.85" x2="508.95" y2="611.85" stroke="#888" stroke-width="1.5"/>
<text transform="translate(505.15 615.05) scale(0.91 1)" font-size="10.0" text-anchor="end" fill="#111">150</text>
<line x1="505.75" y1="583.20" x2="508.95" y2="583.20" stroke="#888" stroke-width="1.5"/>
<text transform="translate(505.15 586.40) scale(0.91 1)" font-size="10.0" text-anchor="end" fill="#111">200</text>
<line x1="508.45" y1="698.40" x2="684.50" y2="698.40" stroke="#333" stroke-width="1.0"/>
<line x1="552.60" y1="698.40" x2="552.60" y2="701.60" stroke="#333" stroke-width="1.0"/>
<line x1="639.80" y1="698.40" x2="639.80" y2="701.60" stroke="#333" stroke-width="1.0"/>
<text x="552.60" y="715.40" font-size="10.8" text-anchor="middle" fill="#111">shNC</text>
<text x="639.80" y="715.40" font-size="10.8" text-anchor="middle" fill="#111">shTYMS</text>
<text x="477.40" y="641.00" font-size="11" text-anchor="middle" fill="#111" transform="rotate(-90 477.40 641.00)">5-FU IC50 (ng/mL)</text>
<text x="513.20" y="583.40" font-size="10.9" text-anchor="start" fill="#111">HGC-27</text>
</svg></body></html>
